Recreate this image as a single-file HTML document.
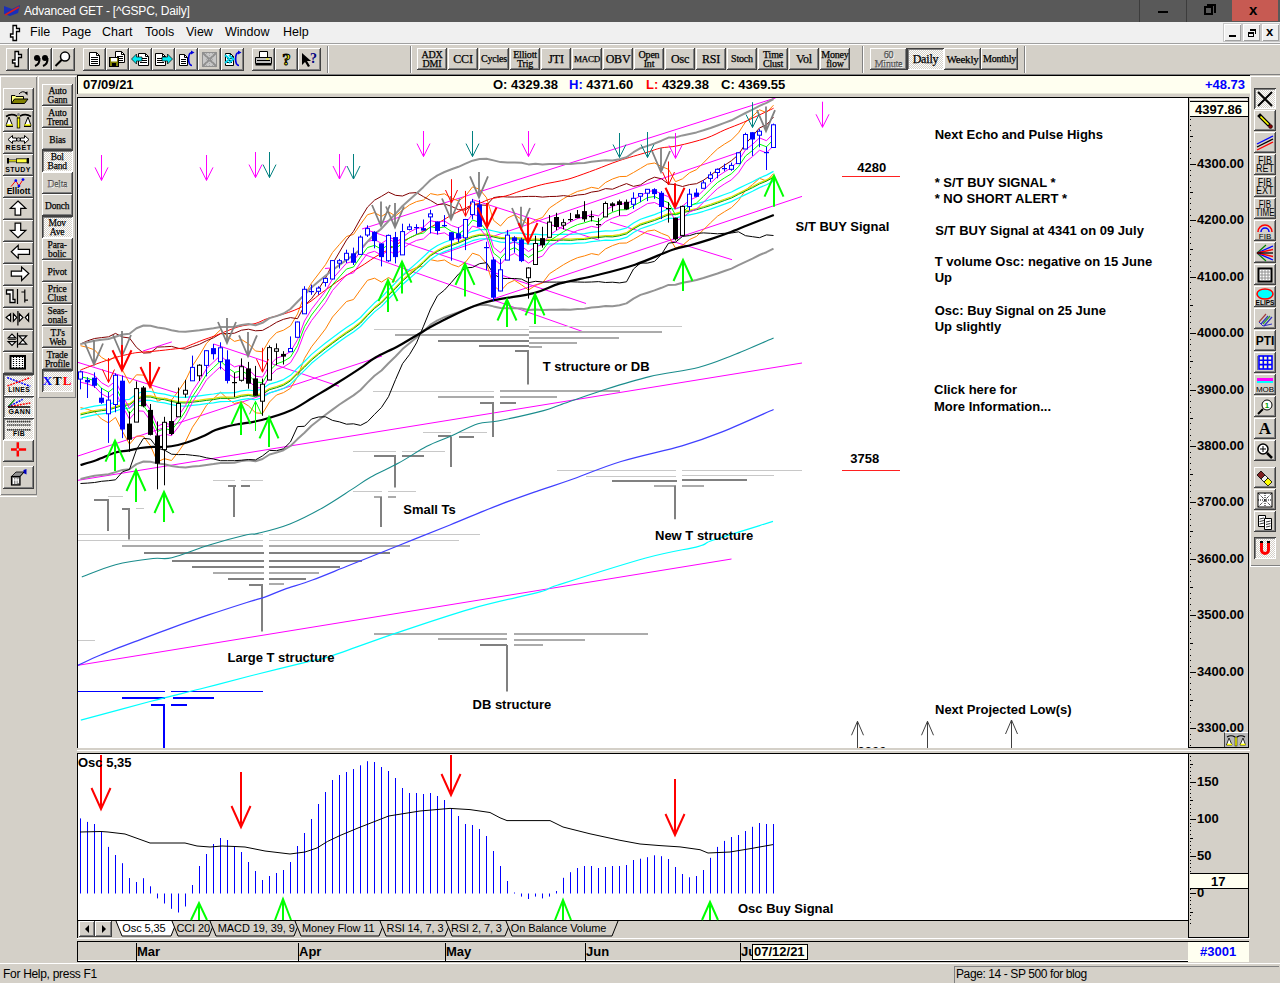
<!DOCTYPE html><html><head><meta charset="utf-8"><style>
*{margin:0;padding:0;box-sizing:border-box}
html,body{width:1280px;height:983px;overflow:hidden;background:#d4d0c8;font-family:"Liberation Sans",Arial,sans-serif}
.ab{position:absolute}
.b{position:absolute;background:#d4d0c8;box-shadow:inset -1px -1px #404040,inset 1px 1px #fff,inset -2px -2px #808080;display:flex;align-items:center;justify-content:center;overflow:hidden}
.bp{position:absolute;background:repeating-conic-gradient(#fff 0 25%,#d4d0c8 0 50%) 0 0/2px 2px;box-shadow:inset 1px 1px #404040,inset -1px -1px #fff,inset 2px 2px #808080;display:flex;align-items:center;justify-content:center;overflow:hidden}
.t9{font-family:"Liberation Serif",serif;font-size:10px;line-height:8px;text-align:center;color:#000;letter-spacing:-0.2px;-webkit-text-stroke:0.25px #000}
.menu span{position:absolute;top:3px;font-size:12.5px;color:#000}
.pl{position:absolute;left:1197px;font:bold 13px "Liberation Sans",Arial,sans-serif;color:#000}
.hl{position:absolute;font:bold 12.5px "Liberation Sans",Arial,sans-serif;color:#000;white-space:nowrap}
</style></head><body><div class="ab" style="left:0;top:0;width:1280px;height:22px;background:#595959"></div><div class="ab" style="left:1139px;top:0;width:1px;height:22px;background:#3c3c3c"></div><div class="ab" style="left:1186px;top:0;width:1px;height:22px;background:#3c3c3c"></div><div class="ab" style="left:1232px;top:0;width:46px;height:21px;background:#c75a52"></div><div class="ab" style="left:1158px;top:11px;width:10px;height:2px;background:#000"></div><div class="ab" style="left:1204px;top:6px;width:9px;height:9px;border:2px solid #000"></div><div class="ab" style="left:1207px;top:4px;width:9px;height:2px;background:#000"></div><div class="ab" style="left:1214px;top:4px;width:2px;height:9px;background:#000"></div><div class="ab" style="left:1249px;top:1px;font:bold 15px 'Liberation Sans',sans-serif;color:#000">x</div><svg class="ab" style="left:3px;top:4px" width="18" height="14"><path d="M1 2 L9 5 L17 1 L15 9 L7 12 L1 10Z" fill="#1a2fb8"/><path d="M2 11 L16 3" stroke="#d02020" stroke-width="2"/></svg><div class="ab" style="left:24px;top:4px;font-size:12px;color:#fff;white-space:nowrap;letter-spacing:-0.2px">Advanced GET - [^GSPC, Daily]</div><div class="ab" style="left:0;top:22px;width:1280px;height:21px;background:#f0f0f0"></div><div class="ab" style="left:0;top:43px;width:1280px;height:1px;background:#a0a0a0"></div><div class="ab" style="left:0;top:44px;width:1280px;height:1px;background:#fff"></div><div class="menu"><span style="left:30px;top:25px">File</span><span style="left:62px;top:25px">Page</span><span style="left:102px;top:25px">Chart</span><span style="left:145px;top:25px">Tools</span><span style="left:186px;top:25px">View</span><span style="left:225px;top:25px">Window</span><span style="left:283px;top:25px">Help</span></div><div class="ab" style="left:8px;top:24px"><svg width="14" height="20"><path d="M5 1.5 H8.5 V4.5 H11.5 V7.5 H8.5 V16.5 H5 V13 H2.5 V10 H5 Z" fill="#fff" stroke="#000" stroke-width="1.3"/></svg></div><div class="ab" style="left:1224px;top:24px;width:17px;height:17px;background:#f0f0f0;box-shadow:inset 1px 1px #fff,inset -1px -1px #a0a0a0,0 0 0 1px #c8c8c8"></div><div class="ab" style="left:1243px;top:24px;width:17px;height:17px;background:#f0f0f0;box-shadow:inset 1px 1px #fff,inset -1px -1px #a0a0a0,0 0 0 1px #c8c8c8"></div><div class="ab" style="left:1262px;top:24px;width:17px;height:17px;background:#f0f0f0;box-shadow:inset 1px 1px #fff,inset -1px -1px #a0a0a0,0 0 0 1px #c8c8c8"></div><div class="ab" style="left:1229px;top:35px;width:7px;height:2px;background:#000"></div><div class="ab" style="left:1248px;top:32px;width:6px;height:5px;border:1px solid #000;border-top-width:2px"></div><div class="ab" style="left:1250px;top:29px;width:6px;height:5px;border-top:2px solid #000;border-right:1px solid #000"></div><div class="ab" style="left:1266px;top:24px;font:bold 13px 'Liberation Sans',sans-serif;color:#000">x</div><div class="ab" style="left:0;top:74px;width:1280px;height:1px;background:#808080"></div><div class="ab" style="left:327px;top:46px;width:1px;height:27px;background:#808080"></div><div class="ab" style="left:328px;top:46px;width:1px;height:27px;background:#fff"></div><div class="ab" style="left:410px;top:46px;width:1px;height:27px;background:#808080"></div><div class="ab" style="left:411px;top:46px;width:1px;height:27px;background:#fff"></div><div class="ab" style="left:862px;top:46px;width:1px;height:27px;background:#808080"></div><div class="ab" style="left:863px;top:46px;width:1px;height:27px;background:#fff"></div><div class="ab" style="left:1024px;top:46px;width:1px;height:27px;background:#808080"></div><div class="ab" style="left:1025px;top:46px;width:1px;height:27px;background:#fff"></div><div class="b" style="left:6px;top:48px;width:23px;height:23px;"><svg width="23" height="23" style="display:block"><path d="M9 3.5 H12.5 V6.5 H15.5 V9.5 H12.5 V18.5 H9 V15 H6.5 V12 H9 Z" fill="#fff" stroke="#000" stroke-width="1.3"/></svg></div><div class="b" style="left:29px;top:48px;width:23px;height:23px;"><svg width="18" height="16"><circle cx="5" cy="6" r="3"/><path d="M7.5 6 Q8 12 3 14" stroke="#000" stroke-width="2" fill="none"/><circle cx="13" cy="6" r="3"/><path d="M15.5 6 Q16 12 11 14" stroke="#000" stroke-width="2" fill="none"/></svg></div><div class="b" style="left:52px;top:48px;width:23px;height:23px;"><svg width="23" height="23" style="display:block"><circle cx="13" cy="8.6" r="4.5" fill="#fff" stroke="#000" stroke-width="1.5"/><path d="M9.8 11.8 L3.5 18" stroke="#000" stroke-width="2"/></svg></div><div class="b" style="left:83px;top:48px;width:23px;height:23px;"><svg width="23" height="23" style="display:block"><path d="M6.5 4.5 H13.5 L16.5 7.5 V17.5 H6.5 Z" fill="#fff" stroke="#000"/><path d="M13.5 4.5 V7.5 H16.5" fill="none" stroke="#000"/><path d="M8 9.5 H15" stroke="#000"/><path d="M8 11.5 H15" stroke="#000"/><path d="M8 13.5 H15" stroke="#000"/><path d="M8 15.5 H15" stroke="#000"/></svg></div><div class="b" style="left:106px;top:48px;width:23px;height:23px;"><svg width="23" height="23" style="display:block"><path d="M9.5 3.5 H15.5 L18.5 6.5 V14.5 H9.5 Z" fill="#fff" stroke="#000"/><path d="M15.5 3.5 V6.5 H18.5" fill="none" stroke="#000"/><path d="M11 8.5 H17" stroke="#000"/><path d="M11 10.5 H17" stroke="#000"/><path d="M11 12.5 H17" stroke="#000"/><rect x="3.5" y="9.5" width="9" height="9" fill="#808000" stroke="#000"/><rect x="5" y="10" width="6" height="3.5" fill="#fff"/><rect x="6" y="15" width="4" height="3" fill="#000"/></svg></div><div class="b" style="left:129px;top:48px;width:23px;height:23px;"><svg width="23" height="23" style="display:block"><path d="M9.5 5.5 H16.5 L19.5 8.5 V17.5 H9.5 Z" fill="#fff" stroke="#000"/><path d="M16.5 5.5 V8.5 H19.5" fill="none" stroke="#000"/><path d="M11 10.5 H18" stroke="#000"/><path d="M11 12.5 H18" stroke="#000"/><path d="M11 14.5 H18" stroke="#000"/><path d="M2.5 11 L7.5 6 V9 H13 V13 H7.5 V16 Z" fill="#00e8f0" stroke="#000" stroke-width=".7"/></svg></div><div class="b" style="left:152px;top:48px;width:23px;height:23px;"><svg width="23" height="23" style="display:block"><path d="M3.5 5.5 H10.5 L13.5 8.5 V17.5 H3.5 Z" fill="#fff" stroke="#000"/><path d="M10.5 5.5 V8.5 H13.5" fill="none" stroke="#000"/><path d="M5 10.5 H12" stroke="#000"/><path d="M5 12.5 H12" stroke="#000"/><path d="M5 14.5 H12" stroke="#000"/><path d="M20.5 11 L15.5 6 V9 H10 V13 H15.5 V16 Z" fill="#00e8f0" stroke="#000" stroke-width=".7"/></svg></div><div class="b" style="left:175px;top:48px;width:23px;height:23px;"><svg width="23" height="23" style="display:block"><path d="M4.5 6.5 H9.5 L12.5 9.5 V17.5 H4.5 Z" fill="#fff" stroke="#000"/><path d="M9.5 6.5 V9.5 H12.5" fill="none" stroke="#000"/><path d="M6 11.5 H11" stroke="#000"/><path d="M6 13.5 H11" stroke="#000"/><path d="M6 15.5 H11" stroke="#000"/><path d="M17 4.5 C12.5 4.5 12.5 17.5 17 17.5" fill="none" stroke="#0000e0" stroke-width="1.6"/><path d="M16 2.5 L19.5 4.5 L16 6.5 Z" fill="#0000e0"/></svg></div><div class="b" style="left:198px;top:48px;width:23px;height:23px;"><svg width="23" height="23" style="display:block"><rect x="4.5" y="4.5" width="14" height="14" fill="#c8c8c8" stroke="#909090"/><path d="M4.5 4.5 L18.5 18.5 M18.5 4.5 L4.5 18.5" stroke="#909090" stroke-width="2"/><path d="M8.5 5V18 M11.5 5V18 M14.5 5V18" stroke="#a8a8a8" stroke-dasharray="1 1"/></svg></div><div class="b" style="left:221px;top:48px;width:23px;height:23px;"><svg width="23" height="23" style="display:block"><path d="M4.5 5.5 H9.5 L12.5 8.5 V17.5 H4.5 Z" fill="#fff" stroke="#000"/><path d="M9.5 5.5 V8.5 H12.5" fill="none" stroke="#000"/><path d="M6 10.5 H11" stroke="#000"/><path d="M6 12.5 H11" stroke="#000"/><path d="M6 14.5 H11" stroke="#000"/><path d="M4 7 L8.5 11 L4 15 M8 7 L12.5 11 L8 15" fill="none" stroke="#00d0e8" stroke-width="2"/><path d="M18 4.5 C13.5 4.5 13.5 17.5 18 17.5" fill="none" stroke="#0000e0" stroke-width="1.6"/><path d="M17 2.5 L20.5 4.5 L17 6.5 Z" fill="#0000e0"/></svg></div><div class="b" style="left:252px;top:48px;width:23px;height:23px;"><svg width="23" height="23" style="display:block"><path d="M7.5 3.5 H15.5 V9.5 H7.5 Z" fill="#fff" stroke="#000"/><path d="M3.5 9.5 H19.5 V15.5 H3.5 Z" fill="#c0c0c0" stroke="#000"/><path d="M3.5 15.5 H19.5 V17.5 H3.5 Z" fill="#000"/><path d="M5 12.5 H18" stroke="#000"/><path d="M14 11 H17" stroke="#ff0"/></svg></div><div class="b" style="left:275px;top:48px;width:23px;height:23px;"><div style="font:bold 17px 'Liberation Serif',serif;color:#ffff00;-webkit-text-stroke:1px #000">?</div></div><div class="b" style="left:298px;top:48px;width:23px;height:23px;"><svg width="20" height="18"><path d="M2 2 L2 14 L5 11 L8 16 L10 15 L7 10 L11 10Z" fill="#000"/><text x="10" y="12" font-family="Liberation Serif, serif" font-weight="bold" font-size="14" fill="#000080">?</text></svg></div><div class="b" style="left:417px;top:48px;width:30px;height:22px;"><div class="t9" style="font-size:10px;line-height:9px">ADX<br>DMI</div></div><div class="b" style="left:448px;top:48px;width:30px;height:22px;"><div class="t9" style="font-size:12px;line-height:12px">CCI</div></div><div class="b" style="left:479px;top:48px;width:30px;height:22px;"><div class="t9" style="font-size:10px;line-height:12px">Cycles</div></div><div class="b" style="left:510px;top:48px;width:30px;height:22px;"><div class="t9" style="font-size:10px;line-height:9px">Elliott<br>Trig</div></div><div class="b" style="left:541px;top:48px;width:30px;height:22px;"><div class="t9" style="font-size:12px;line-height:12px">JTI</div></div><div class="b" style="left:572px;top:48px;width:30px;height:22px;"><div class="t9" style="font-size:9px;line-height:12px">MACD</div></div><div class="b" style="left:603px;top:48px;width:30px;height:22px;"><div class="t9" style="font-size:12px;line-height:12px">OBV</div></div><div class="b" style="left:634px;top:48px;width:30px;height:22px;"><div class="t9" style="font-size:10px;line-height:9px">Open<br>Int</div></div><div class="b" style="left:665px;top:48px;width:30px;height:22px;"><div class="t9" style="font-size:12px;line-height:12px">Osc</div></div><div class="b" style="left:696px;top:48px;width:30px;height:22px;"><div class="t9" style="font-size:12px;line-height:12px">RSI</div></div><div class="b" style="left:727px;top:48px;width:30px;height:22px;"><div class="t9" style="font-size:10px;line-height:12px">Stoch</div></div><div class="b" style="left:758px;top:48px;width:30px;height:22px;"><div class="t9" style="font-size:10px;line-height:9px">Time<br>Clust</div></div><div class="b" style="left:789px;top:48px;width:30px;height:22px;"><div class="t9" style="font-size:12px;line-height:12px">Vol</div></div><div class="b" style="left:820px;top:48px;width:30px;height:22px;"><div class="t9" style="font-size:10px;line-height:9px">Money<br>flow</div></div><div class="b" style="left:870px;top:48px;width:37px;height:22px;"><div class="t9" style="color:#a0a0a0;font-size:10px;line-height:9px;text-shadow:1px 1px #fff">60<br>Minute</div></div><div class="bp" style="left:907px;top:48px;width:37px;height:22px;"><div class="t9" style="font-size:12px;line-height:12px">Daily</div></div><div class="b" style="left:944px;top:48px;width:37px;height:22px;"><div class="t9" style="font-size:11px;line-height:12px">Weekly</div></div><div class="b" style="left:981px;top:48px;width:37px;height:22px;"><div class="t9" style="font-size:10px;line-height:12px">Monthly</div></div><div class="ab" style="left:0;top:76px;width:37px;height:419px;box-shadow:inset 1px 1px #fff,inset -1px -1px #808080"></div><div class="ab" style="left:38px;top:76px;width:38px;height:322px;box-shadow:inset 1px 1px #fff,inset -1px -1px #808080"></div><div class="ab" style="left:0;top:496px;width:37px;height:1px;background:#fff"></div><div class="b" style="left:3px;top:88px;width:31px;height:22px;"><svg width="31" height="22" style="display:block"><path d="M8.5 7.5 H12 L13 8.5 H20.5 V15.5 H8.5 Z" fill="#ffff80" stroke="#000"/><path d="M8.5 15.5 L11.5 11 H25 L21.5 15.5 Z" fill="#808000" stroke="#000"/><path d="M16 6 Q19.5 2 23 5" fill="none" stroke="#000"/><path d="M21.5 4.5 L24.5 7.5 L24.5 3.5 Z" fill="#000"/></svg></div><div class="b" style="left:3px;top:110px;width:31px;height:22px;"><svg width="31" height="22" style="display:block"><path d="M3 6.5 Q8 3 14 6 M17 6 Q23 3 28 6.5" fill="none" stroke="#000" stroke-width="1.6"/><path d="M14 6.5 L15.5 9 L17 6.5" fill="#ff0" stroke="#000" stroke-width=".6"/><rect x="14.2" y="8" width="2.6" height="10" fill="#ff0" stroke="#000" stroke-width=".8"/><circle cx="15.5" cy="4.5" r="1.5" fill="#808080"/><path d="M3 15.5 L6 7 L9.5 15.5 Z M21.5 15.5 L25 7 L28 15.5 Z" fill="#fff" stroke="#000"/><path d="M3.5 15 H9.5 M21.5 15 H27.5" stroke="#ff0" stroke-width="1.6"/><path d="M3 16.5 H10 M21 16.5 H28" stroke="#000"/></svg></div><div class="b" style="left:3px;top:132px;width:31px;height:22px;"><svg width="31" height="22" style="display:block"><path d="M5 7.5 L9.5 3.5 V6 H13.5 V9 H9.5 V11.5 Z M26 7.5 L21.5 3.5 V6 H17.5 V9 H21.5 V11.5 Z" fill="#fff" stroke="#000"/><circle cx="15.5" cy="7.5" r="1.8" fill="#c0c0c0" stroke="#000" stroke-width=".8"/><text x="15.5" y="18" text-anchor="middle" font-family="Liberation Sans, sans-serif" font-weight="bold" font-size="7" letter-spacing="0.5" fill="#000">RESET</text></svg></div><div class="b" style="left:3px;top:154px;width:31px;height:22px;"><svg width="31" height="22" style="display:block"><rect x="4" y="4" width="2" height="5.5" fill="#000"/><rect x="24" y="4" width="2" height="5.5" fill="#000"/><path d="M6 6.8 H13" stroke="#ff0" stroke-width="1.5"/><path d="M6 5.8 H13 M6 7.8 H13" stroke="#000" stroke-width=".6"/><rect x="13.5" y="4.8" width="10.5" height="4" fill="#ffff40" stroke="#000" stroke-width=".8"/><text x="15" y="17.7" text-anchor="middle" font-family="Liberation Sans, sans-serif" font-weight="bold" font-size="7" letter-spacing="0.4" fill="#000">STUDY</text></svg></div><div class="b" style="left:3px;top:176px;width:31px;height:22px;"><svg width="31" height="22" style="display:block"><path d="M8 10.6 L12.8 4.7 L15.9 9.9 L20 3.6" fill="none" stroke="#ff0000" stroke-width="1"/><circle cx="12.8" cy="4.7" r="1.4" fill="#0000ff"/><circle cx="15.9" cy="9.9" r="1.4" fill="#0000ff"/><circle cx="20" cy="3.6" r="1.4" fill="#0000ff"/><text x="15.5" y="18" text-anchor="middle" font-family="Liberation Sans, sans-serif" font-weight="bold" font-size="8.5" letter-spacing="0" fill="#000">Elliott</text></svg></div><div class="b" style="left:3px;top:198px;width:31px;height:22px;"><svg width="31" height="22" style="display:block"><path d="M15 3 L22.8 10.3 H17.7 V17.2 H12.1 V10.3 H7.3 Z" fill="#fff" stroke="#000" stroke-width="1.2"/></svg></div><div class="b" style="left:3px;top:220px;width:31px;height:22px;"><svg width="31" height="22" style="display:block"><path d="M15 17.7 L22.8 10.4 H17.7 V3.2 H12.1 V10.4 H7.3 Z" fill="#fff" stroke="#000" stroke-width="1.2"/></svg></div><div class="b" style="left:3px;top:242px;width:31px;height:22px;"><svg width="31" height="22" style="display:block"><path d="M8.3 9.7 L15.2 3.3 V7.4 H26.5 V12.3 H15.2 V16.4 Z" fill="#fff" stroke="#000" stroke-width="1.2"/></svg></div><div class="b" style="left:3px;top:264px;width:31px;height:22px;"><svg width="31" height="22" style="display:block"><path d="M25.8 9.5 L18.6 3.1 V7.2 H8.3 V12.1 H18.6 V16.5 Z" fill="#fff" stroke="#000" stroke-width="1.2"/></svg></div><div class="b" style="left:3px;top:286px;width:31px;height:22px;"><svg width="31" height="22" style="display:block"><path d="M3.5 4 H10 V13.5 H12 V16.5 H7 V8 H3.5 Z" fill="#fff" stroke="#000" stroke-width="1.3"/><path d="M14.5 3 V18" stroke="#000" stroke-width="1.2"/><path d="M18.4 6 H21.8 V14.2 H25 M21.8 3.5 V16.5" fill="none" stroke="#000" stroke-width="1.2"/></svg></div><div class="b" style="left:3px;top:308px;width:31px;height:22px;"><svg width="31" height="22" style="display:block"><path d="M3.1 9.5 L7.6 5.7 V13.3 Z M10.4 5.7 L13.8 9.5 L10.4 13.3 Z M16.3 5.7 L20 9.5 L16.3 13.3 Z M25.6 5.7 L22.2 9.5 L25.6 13.3 Z" fill="#fff" stroke="#000" stroke-width="1.2"/><path d="M14.9 3 V17.5" stroke="#000" stroke-width="1.2"/></svg></div><div class="b" style="left:3px;top:330px;width:31px;height:22px;"><svg width="31" height="22" style="display:block"><path d="M9 4.1 L12.8 7.9 H5.2 Z M5.2 11.7 H12.8 L9 15.5 Z" fill="#fff" stroke="#000" stroke-width="1.2"/><path d="M5.2 9.5 H12.8" stroke="#000" stroke-width=".8"/><path d="M14.5 2.7 V17.7" stroke="#000" stroke-width="1.2"/><path d="M16 5.8 H23.6 L19.8 9.8 Z M19.8 9.8 L23.6 14.1 H16 Z" fill="#fff" stroke="#000" stroke-width="1.2"/></svg></div><div class="b" style="left:3px;top:352px;width:31px;height:22px;"><svg width="31" height="22" style="display:block"><rect x="7.5" y="4" width="14.5" height="12.6" fill="#fff" stroke="#000" stroke-width="2"/><path d="M10.5 5V16 M13.5 5V16 M16.5 5V16 M19.5 5V16" stroke="#000" stroke-width="1.2" stroke-dasharray="1 1"/></svg></div><div class="bp" style="left:3px;top:374px;width:31px;height:22px;"><svg width="31" height="22" style="display:block"><path d="M4.2 3.6 L27.3 12.3" stroke="#0000ff" stroke-width="1.5" stroke-dasharray="2 1"/><path d="M4.5 11.9 L27.3 3.6" stroke="#ff0000" stroke-width="1.5" stroke-dasharray="2 1"/><text x="16.2" y="18.3" text-anchor="middle" font-family="Liberation Sans, sans-serif" font-weight="bold" font-size="6.8" letter-spacing="0.4" fill="#000">LINES</text></svg></div><div class="bp" style="left:3px;top:396px;width:31px;height:22px;"><svg width="31" height="22" style="display:block"><path d="M5 11 L11.8 3.4" stroke="#008000" stroke-width="1.2"/><path d="M5 11 L19.7 3.4" stroke="#0000ff" stroke-width="1.5" stroke-dasharray="2 1"/><path d="M5 11 L27.3 6.9" stroke="#ff0000" stroke-width="1.5" stroke-dasharray="2 1"/><path d="M5 11 H27.3" stroke="#000" stroke-width="1.5"/><text x="16.6" y="18" text-anchor="middle" font-family="Liberation Sans, sans-serif" font-weight="bold" font-size="7" letter-spacing="0.4" fill="#000">GANN</text></svg></div><div class="bp" style="left:3px;top:418px;width:31px;height:22px;"><svg width="31" height="22" style="display:block"><path d="M4 3.6 H28 M4 7 H28 M4 11.9 H28" stroke="#404040" stroke-width="1.6" stroke-dasharray="1.5 .5"/><text x="16" y="18" text-anchor="middle" font-family="Liberation Sans, sans-serif" font-weight="bold" font-size="6.8" letter-spacing="0.3" fill="#000">FIB</text></svg></div><div class="b" style="left:3px;top:440px;width:31px;height:22px;"><svg width="31" height="22" style="display:block"><path d="M8 9.5 H23.1 M14.8 2.3 V16.6" stroke="#ff0000" stroke-width="2.5"/><rect x="13.8" y="8.5" width="2" height="2" fill="#c0e0e0"/></svg></div><div class="b" style="left:3px;top:466px;width:31px;height:23px;"><svg width="31" height="22" style="display:block"><path d="M8.5 9.5 L13 5 H21 L17 9.5 Z" fill="#909090" stroke="#000" stroke-width=".8"/><rect x="8.5" y="9.5" width="8.5" height="8.5" fill="#808080" stroke="#000" stroke-width="1.2"/><path d="M10.5 11 V17 M13 11 V17 M15.3 11.5 V16" stroke="#fff" stroke-width="1.2"/><path d="M10 13 H16" stroke="#fff"/><path d="M20.5 3 L23.5 2 V7.5 L20.5 6 Z" fill="#0000c0"/><path d="M17 9.5 L21 5" stroke="#000" stroke-width=".8"/></svg></div><div class="b" style="left:42px;top:84px;width:31px;height:22px;"><div class="t9" style="font-size:11px;line-height:9px;transform:scaleX(0.86);">Auto<br>Gann</div></div><div class="b" style="left:42px;top:106px;width:31px;height:22px;"><div class="t9" style="font-size:11px;line-height:9px;transform:scaleX(0.86);">Auto<br>Trend</div></div><div class="b" style="left:42px;top:128px;width:31px;height:22px;"><div class="t9" style="font-size:11px;line-height:12px;transform:scaleX(0.86);">Bias</div></div><div class="bp" style="left:42px;top:150px;width:31px;height:22px;"><div class="t9" style="font-size:11px;line-height:9px;transform:scaleX(0.86);">Bol<br>Band</div></div><div class="b" style="left:42px;top:172px;width:31px;height:22px;"><div class="t9" style="font-size:11px;line-height:12px;transform:scaleX(0.86);color:#a0a0a0;text-shadow:1px 1px #fff">Delta</div></div><div class="b" style="left:42px;top:194px;width:31px;height:22px;"><div class="t9" style="font-size:11px;line-height:12px;transform:scaleX(0.86);">Donch</div></div><div class="bp" style="left:42px;top:216px;width:31px;height:22px;"><div class="t9" style="font-size:11px;line-height:9px;transform:scaleX(0.86);">Mov<br>Ave</div></div><div class="b" style="left:42px;top:238px;width:31px;height:22px;"><div class="t9" style="font-size:11px;line-height:9px;transform:scaleX(0.86);">Para-<br>bolic</div></div><div class="b" style="left:42px;top:260px;width:31px;height:22px;"><div class="t9" style="font-size:11px;line-height:12px;transform:scaleX(0.86);">Pivot</div></div><div class="b" style="left:42px;top:282px;width:31px;height:22px;"><div class="t9" style="font-size:11px;line-height:9px;transform:scaleX(0.86);">Price<br>Clust</div></div><div class="b" style="left:42px;top:304px;width:31px;height:22px;"><div class="t9" style="font-size:11px;line-height:9px;transform:scaleX(0.86);">Seas-<br>onals</div></div><div class="b" style="left:42px;top:326px;width:31px;height:22px;"><div class="t9" style="font-size:11px;line-height:9px;transform:scaleX(0.86);">TJ's<br>Web</div></div><div class="b" style="left:42px;top:348px;width:31px;height:22px;"><div class="t9" style="font-size:11px;line-height:9px;transform:scaleX(0.86);">Trade<br>Profile</div></div><div class="bp" style="left:42px;top:370px;width:31px;height:22px;"><div style="font:bold 13px 'Liberation Serif',serif;letter-spacing:1px"><span style="color:#0000ff">X</span><span style="color:#000">T</span><span style="color:#ff0000">L</span></div></div><div class="ab" style="left:77px;top:75px;width:1173px;height:19px;background:#fffff0;border-top:1px solid #000;border-left:1px solid #000;box-shadow:inset 0 -1px #e8e8d8"></div><div class="hl" style="left:83px;top:77px;font-size:13px">07/09/21</div><div class="hl" style="left:493px;top:77px;font-size:13px">O: 4329.38</div><div class="hl" style="left:569px;top:77px;font-size:13px"><span style="color:#0000ff">H:</span> 4371.60</div><div class="hl" style="left:646px;top:77px;font-size:13px"><span style="color:#ff0000">L:</span> 4329.38</div><div class="hl" style="left:721px;top:77px;font-size:13px">C: 4369.55</div><div class="hl" style="right:35px;top:77px;font-size:13px;color:#0000ff">+48.73</div><div class="ab" style="left:77px;top:97px;width:1112px;height:651px;background:#fff;border:1px solid #000;border-right:none;border-bottom:none"></div><div class="ab" style="left:1188px;top:97px;width:61px;height:651px;background:#d4d0c8;border:1px solid #000"></div><div class="ab" style="left:1190px;top:99px;width:57px;height:3px;background:#d4d0c8;box-shadow:inset 0 1px #fff"></div><div class="ab" style="left:1190px;top:101px;width:58px;height:16px;background:#fffff0;border-top:1px solid #000;border-bottom:1px solid #000"></div><div class="hl" style="left:1195px;top:102px;font-size:13px">4397.86</div><div class="ab" style="left:1190px;top:119px;width:1px;height:1px;background:#000"></div><div class="ab" style="left:1190px;top:125px;width:1px;height:1px;background:#000"></div><div class="ab" style="left:1190px;top:130px;width:1px;height:1px;background:#000"></div><div class="ab" style="left:1190px;top:136px;width:3px;height:1px;background:#000"></div><div class="ab" style="left:1190px;top:141px;width:1px;height:1px;background:#000"></div><div class="ab" style="left:1190px;top:147px;width:1px;height:1px;background:#000"></div><div class="ab" style="left:1190px;top:153px;width:1px;height:1px;background:#000"></div><div class="ab" style="left:1190px;top:158px;width:1px;height:1px;background:#000"></div><div class="ab" style="left:1190px;top:164px;width:6px;height:1px;background:#000"></div><div class="pl" style="top:156px">4300.00</div><div class="ab" style="left:1190px;top:170px;width:1px;height:1px;background:#000"></div><div class="ab" style="left:1190px;top:175px;width:1px;height:1px;background:#000"></div><div class="ab" style="left:1190px;top:181px;width:1px;height:1px;background:#000"></div><div class="ab" style="left:1190px;top:187px;width:1px;height:1px;background:#000"></div><div class="ab" style="left:1190px;top:192px;width:3px;height:1px;background:#000"></div><div class="ab" style="left:1190px;top:198px;width:1px;height:1px;background:#000"></div><div class="ab" style="left:1190px;top:203px;width:1px;height:1px;background:#000"></div><div class="ab" style="left:1190px;top:209px;width:1px;height:1px;background:#000"></div><div class="ab" style="left:1190px;top:215px;width:1px;height:1px;background:#000"></div><div class="ab" style="left:1190px;top:220px;width:6px;height:1px;background:#000"></div><div class="pl" style="top:212px">4200.00</div><div class="ab" style="left:1190px;top:226px;width:1px;height:1px;background:#000"></div><div class="ab" style="left:1190px;top:232px;width:1px;height:1px;background:#000"></div><div class="ab" style="left:1190px;top:237px;width:1px;height:1px;background:#000"></div><div class="ab" style="left:1190px;top:243px;width:1px;height:1px;background:#000"></div><div class="ab" style="left:1190px;top:249px;width:3px;height:1px;background:#000"></div><div class="ab" style="left:1190px;top:254px;width:1px;height:1px;background:#000"></div><div class="ab" style="left:1190px;top:260px;width:1px;height:1px;background:#000"></div><div class="ab" style="left:1190px;top:266px;width:1px;height:1px;background:#000"></div><div class="ab" style="left:1190px;top:271px;width:1px;height:1px;background:#000"></div><div class="ab" style="left:1190px;top:277px;width:6px;height:1px;background:#000"></div><div class="pl" style="top:269px">4100.00</div><div class="ab" style="left:1190px;top:282px;width:1px;height:1px;background:#000"></div><div class="ab" style="left:1190px;top:288px;width:1px;height:1px;background:#000"></div><div class="ab" style="left:1190px;top:294px;width:1px;height:1px;background:#000"></div><div class="ab" style="left:1190px;top:299px;width:1px;height:1px;background:#000"></div><div class="ab" style="left:1190px;top:305px;width:3px;height:1px;background:#000"></div><div class="ab" style="left:1190px;top:311px;width:1px;height:1px;background:#000"></div><div class="ab" style="left:1190px;top:316px;width:1px;height:1px;background:#000"></div><div class="ab" style="left:1190px;top:322px;width:1px;height:1px;background:#000"></div><div class="ab" style="left:1190px;top:328px;width:1px;height:1px;background:#000"></div><div class="ab" style="left:1190px;top:333px;width:6px;height:1px;background:#000"></div><div class="pl" style="top:325px">4000.00</div><div class="ab" style="left:1190px;top:339px;width:1px;height:1px;background:#000"></div><div class="ab" style="left:1190px;top:344px;width:1px;height:1px;background:#000"></div><div class="ab" style="left:1190px;top:350px;width:1px;height:1px;background:#000"></div><div class="ab" style="left:1190px;top:356px;width:1px;height:1px;background:#000"></div><div class="ab" style="left:1190px;top:361px;width:3px;height:1px;background:#000"></div><div class="ab" style="left:1190px;top:367px;width:1px;height:1px;background:#000"></div><div class="ab" style="left:1190px;top:373px;width:1px;height:1px;background:#000"></div><div class="ab" style="left:1190px;top:378px;width:1px;height:1px;background:#000"></div><div class="ab" style="left:1190px;top:384px;width:1px;height:1px;background:#000"></div><div class="ab" style="left:1190px;top:390px;width:6px;height:1px;background:#000"></div><div class="pl" style="top:382px">3900.00</div><div class="ab" style="left:1190px;top:395px;width:1px;height:1px;background:#000"></div><div class="ab" style="left:1190px;top:401px;width:1px;height:1px;background:#000"></div><div class="ab" style="left:1190px;top:407px;width:1px;height:1px;background:#000"></div><div class="ab" style="left:1190px;top:412px;width:1px;height:1px;background:#000"></div><div class="ab" style="left:1190px;top:418px;width:3px;height:1px;background:#000"></div><div class="ab" style="left:1190px;top:423px;width:1px;height:1px;background:#000"></div><div class="ab" style="left:1190px;top:429px;width:1px;height:1px;background:#000"></div><div class="ab" style="left:1190px;top:435px;width:1px;height:1px;background:#000"></div><div class="ab" style="left:1190px;top:440px;width:1px;height:1px;background:#000"></div><div class="ab" style="left:1190px;top:446px;width:6px;height:1px;background:#000"></div><div class="pl" style="top:438px">3800.00</div><div class="ab" style="left:1190px;top:452px;width:1px;height:1px;background:#000"></div><div class="ab" style="left:1190px;top:457px;width:1px;height:1px;background:#000"></div><div class="ab" style="left:1190px;top:463px;width:1px;height:1px;background:#000"></div><div class="ab" style="left:1190px;top:469px;width:1px;height:1px;background:#000"></div><div class="ab" style="left:1190px;top:474px;width:3px;height:1px;background:#000"></div><div class="ab" style="left:1190px;top:480px;width:1px;height:1px;background:#000"></div><div class="ab" style="left:1190px;top:485px;width:1px;height:1px;background:#000"></div><div class="ab" style="left:1190px;top:491px;width:1px;height:1px;background:#000"></div><div class="ab" style="left:1190px;top:497px;width:1px;height:1px;background:#000"></div><div class="ab" style="left:1190px;top:502px;width:6px;height:1px;background:#000"></div><div class="pl" style="top:494px">3700.00</div><div class="ab" style="left:1190px;top:508px;width:1px;height:1px;background:#000"></div><div class="ab" style="left:1190px;top:514px;width:1px;height:1px;background:#000"></div><div class="ab" style="left:1190px;top:519px;width:1px;height:1px;background:#000"></div><div class="ab" style="left:1190px;top:525px;width:1px;height:1px;background:#000"></div><div class="ab" style="left:1190px;top:531px;width:3px;height:1px;background:#000"></div><div class="ab" style="left:1190px;top:536px;width:1px;height:1px;background:#000"></div><div class="ab" style="left:1190px;top:542px;width:1px;height:1px;background:#000"></div><div class="ab" style="left:1190px;top:548px;width:1px;height:1px;background:#000"></div><div class="ab" style="left:1190px;top:553px;width:1px;height:1px;background:#000"></div><div class="ab" style="left:1190px;top:559px;width:6px;height:1px;background:#000"></div><div class="pl" style="top:551px">3600.00</div><div class="ab" style="left:1190px;top:564px;width:1px;height:1px;background:#000"></div><div class="ab" style="left:1190px;top:570px;width:1px;height:1px;background:#000"></div><div class="ab" style="left:1190px;top:576px;width:1px;height:1px;background:#000"></div><div class="ab" style="left:1190px;top:581px;width:1px;height:1px;background:#000"></div><div class="ab" style="left:1190px;top:587px;width:3px;height:1px;background:#000"></div><div class="ab" style="left:1190px;top:593px;width:1px;height:1px;background:#000"></div><div class="ab" style="left:1190px;top:598px;width:1px;height:1px;background:#000"></div><div class="ab" style="left:1190px;top:604px;width:1px;height:1px;background:#000"></div><div class="ab" style="left:1190px;top:610px;width:1px;height:1px;background:#000"></div><div class="ab" style="left:1190px;top:615px;width:6px;height:1px;background:#000"></div><div class="pl" style="top:607px">3500.00</div><div class="ab" style="left:1190px;top:621px;width:1px;height:1px;background:#000"></div><div class="ab" style="left:1190px;top:626px;width:1px;height:1px;background:#000"></div><div class="ab" style="left:1190px;top:632px;width:1px;height:1px;background:#000"></div><div class="ab" style="left:1190px;top:638px;width:1px;height:1px;background:#000"></div><div class="ab" style="left:1190px;top:643px;width:3px;height:1px;background:#000"></div><div class="ab" style="left:1190px;top:649px;width:1px;height:1px;background:#000"></div><div class="ab" style="left:1190px;top:655px;width:1px;height:1px;background:#000"></div><div class="ab" style="left:1190px;top:660px;width:1px;height:1px;background:#000"></div><div class="ab" style="left:1190px;top:666px;width:1px;height:1px;background:#000"></div><div class="ab" style="left:1190px;top:672px;width:6px;height:1px;background:#000"></div><div class="pl" style="top:664px">3400.00</div><div class="ab" style="left:1190px;top:677px;width:1px;height:1px;background:#000"></div><div class="ab" style="left:1190px;top:683px;width:1px;height:1px;background:#000"></div><div class="ab" style="left:1190px;top:689px;width:1px;height:1px;background:#000"></div><div class="ab" style="left:1190px;top:694px;width:1px;height:1px;background:#000"></div><div class="ab" style="left:1190px;top:700px;width:3px;height:1px;background:#000"></div><div class="ab" style="left:1190px;top:705px;width:1px;height:1px;background:#000"></div><div class="ab" style="left:1190px;top:711px;width:1px;height:1px;background:#000"></div><div class="ab" style="left:1190px;top:717px;width:1px;height:1px;background:#000"></div><div class="ab" style="left:1190px;top:722px;width:1px;height:1px;background:#000"></div><div class="ab" style="left:1190px;top:728px;width:6px;height:1px;background:#000"></div><div class="pl" style="top:720px">3300.00</div><div class="ab" style="left:1190px;top:734px;width:1px;height:1px;background:#000"></div><div class="ab" style="left:1190px;top:739px;width:1px;height:1px;background:#000"></div><div class="ab" style="left:1190px;top:745px;width:1px;height:1px;background:#000"></div><div class="ab" style="left:1224px;top:732px;width:24px;height:15px;background:#b8b8b8;border-left:1px solid #404040;border-top:1px solid #fff"><svg width="22" height="15" style="display:block"><path d="M2 4 Q6 1.5 10 4 M12 4 Q16 1.5 20 4" fill="none" stroke="#000" stroke-width="1.2"/><rect x="10" y="4" width="2" height="9" fill="#ff0" stroke="#000" stroke-width=".5"/><path d="M1.5 12 L4 5 L7 12 Z M15 12 L18 5 L20.5 12 Z" fill="#fff" stroke="#000" stroke-width=".8"/><path d="M2 11.5 H7 M15.5 11.5 H20.5" stroke="#ff0" stroke-width="1.3"/></svg></div><div class="ab" style="left:1250px;top:76px;width:31px;height:490px;box-shadow:inset 1px 1px #fff,inset 0 -1px #808080"></div><div class="ab" style="left:1250px;top:566px;width:30px;height:1px;background:#fff"></div><div class="bp" style="left:1254px;top:88px;width:22px;height:21px;"><svg width="18" height="18"><path d="M2 2 L16 16 M16 2 L2 16" stroke="#000" stroke-width="2"/></svg></div><div class="b" style="left:1254px;top:110px;width:22px;height:21px;"><svg width="18" height="18"><path d="M4 2 L14 12 L12 14 L2 4 Z" fill="#ffff00" stroke="#000" stroke-width="1.2"/><path d="M2 4 L4 2 L5.5 3.5 L3.5 5.5 Z" fill="#000"/><circle cx="14.5" cy="14.5" r="2" fill="#800000" stroke="#000" stroke-width=".5"/></svg></div><div class="b" style="left:1254px;top:132px;width:22px;height:21px;"><svg width="18" height="18"><path d="M1 10 L17 2" stroke="#0000ff" stroke-width="1.3"/><path d="M1 13 L17 5" stroke="#000" stroke-width="1.3"/><path d="M1 16 L17 8" stroke="#ff0000" stroke-width="1.3"/></svg></div><div class="b" style="left:1254px;top:154px;width:22px;height:21px;"><div style="font:10px/8px 'Liberation Sans',sans-serif;text-align:center;color:#000;transform:scaleX(.9)">FIB<br>RET</div></div><div class="b" style="left:1254px;top:176px;width:22px;height:21px;"><div style="font:10px/8px 'Liberation Sans',sans-serif;text-align:center;color:#000;transform:scaleX(.9)">FIB<br>EXT</div></div><div class="b" style="left:1254px;top:198px;width:22px;height:21px;"><div style="font:10px/8px 'Liberation Sans',sans-serif;text-align:center;color:#000;transform:scaleX(.8)">FIB<br>TIME</div></div><div class="b" style="left:1254px;top:220px;width:22px;height:21px;"><svg width="18" height="18"><path d="M2 10 A7 7 0 0 1 16 10" fill="none" stroke="#ff0000" stroke-width="1.5"/><path d="M5 10 A4 4 0 0 1 13 10" fill="none" stroke="#0000ff" stroke-width="1.5"/><text x="9" y="17" text-anchor="middle" font-family="Liberation Sans, sans-serif" font-size="8" fill="#000">FIB</text></svg></div><div class="b" style="left:1254px;top:242px;width:22px;height:21px;"><svg width="20" height="18"><path d="M2 9 L11 1 M2 9 L11 17" stroke="#008000" stroke-width="1.2"/><path d="M2 9 L18 2 M2 9 L18 16" stroke="#0000ff" stroke-width="1.3"/><path d="M2 9 L18 5.5 M2 9 L18 12.5" stroke="#ff0000" stroke-width="1.3"/><path d="M2 9 H18" stroke="#000" stroke-width="1.3"/></svg></div><div class="b" style="left:1254px;top:264px;width:22px;height:21px;"><svg width="18" height="18"><rect x="2.5" y="2.5" width="13" height="13" fill="#fff" stroke="#000" stroke-width="2"/><path d="M6 3.5V14.5 M9 3.5V14.5 M12 3.5V14.5 M3.5 6H14.5 M3.5 9H14.5 M3.5 12H14.5" stroke="#909090" stroke-width="1"/></svg></div><div class="b" style="left:1254px;top:286px;width:22px;height:21px;"><svg width="20" height="18"><ellipse cx="10" cy="6" rx="8" ry="5" fill="#00ffff" stroke="#ff0000" stroke-width="1.5"/><text x="10" y="17" text-anchor="middle" font-family="Liberation Sans, sans-serif" font-weight="bold" font-size="6.5" fill="#000">ELIPS</text></svg></div><div class="b" style="left:1254px;top:308px;width:22px;height:21px;"><svg width="18" height="18"><path d="M3 12 L10 4" stroke="#a04040" stroke-width="1.2"/><path d="M5 14 L12 6" stroke="#3030c0" stroke-width="1.2"/><path d="M7 14 L14 6" stroke="#30a030" stroke-width="1.2"/><path d="M8 16 L16 7" stroke="#3030c0" stroke-width="1.2"/><path d="M3 12 L7 16 L16 14" stroke="#3030c0" stroke-width="1" fill="none"/></svg></div><div class="b" style="left:1254px;top:330px;width:22px;height:21px;"><div style="font:bold 12px 'Liberation Sans',sans-serif;color:#000">PTI</div></div><div class="b" style="left:1254px;top:352px;width:22px;height:21px;"><svg width="18" height="18"><rect x="3" y="2" width="13" height="13" fill="#ffffd0" stroke="#0000ff" stroke-width="1.6"/><path d="M7.3 2V15 M11.6 2V15 M3 6.3H16 M3 10.6H16" stroke="#0000ff" stroke-width="1.6"/><path d="M1.5 2V16" stroke="#808080"/></svg></div><div class="b" style="left:1254px;top:374px;width:22px;height:21px;"><svg width="20" height="18"><rect x="2" y="2" width="16" height="3" fill="#ff00ff"/><rect x="2" y="5" width="16" height="2" fill="#00ffff"/><text x="10" y="16" text-anchor="middle" font-family="Liberation Sans, sans-serif" font-size="8" fill="#000">MOB</text></svg></div><div class="b" style="left:1254px;top:396px;width:22px;height:21px;"><svg width="18" height="18"><circle cx="11" cy="7" r="5" fill="#fff" stroke="#000"/><text x="11" y="10" text-anchor="middle" font-family="Liberation Sans, sans-serif" font-weight="bold" font-size="8" fill="#00a000">1</text><path d="M7 11 L2 16" stroke="#000" stroke-width="2"/></svg></div><div class="b" style="left:1254px;top:418px;width:22px;height:21px;"><div style="font:bold 17px 'Liberation Serif',serif;color:#000">A</div></div><div class="b" style="left:1254px;top:440px;width:22px;height:21px;"><svg width="18" height="18"><circle cx="7" cy="7" r="5" fill="#fff" stroke="#000" stroke-width="1.5"/><path d="M4 7H10M7 4V10" stroke="#000"/><path d="M11 11 L16 16" stroke="#000" stroke-width="2.5"/></svg></div><div class="b" style="left:1254px;top:467px;width:22px;height:21px;"><svg width="18" height="18"><path d="M5 2 L9 6 L5 10 L1 6 Z" fill="#802020" stroke="#000" stroke-width=".8"/><path d="M9 6 L12 9 L8 13 L5 10 Z" fill="#f0f0f0" stroke="#000" stroke-width=".8"/><path d="M12 9 L16 13 L12 17 L8 13 Z" fill="#ffff00" stroke="#000" stroke-width=".8"/></svg></div><div class="b" style="left:1254px;top:489px;width:22px;height:21px;"><svg width="18" height="18"><rect x="2" y="2" width="14" height="14" fill="#fff" stroke="#000"/><path d="M2 2 L16 16 M16 2 L2 16 M9 2V16 M2 9H16" stroke="#000" stroke-dasharray="1 1"/></svg></div><div class="b" style="left:1254px;top:511px;width:22px;height:21px;"><svg width="18" height="18"><path d="M2.5 2.5 H9.5 V13.5 H2.5 Z" fill="#fff" stroke="#000"/><path d="M8.5 5.5 H15.5 V16.5 H8.5 Z" fill="#fff" stroke="#000"/><path d="M3.5 6 L8 5 M3.5 8.5 L8 7.5 M3.5 11 L8 10 M10 9 L14.5 8 M10 11.5 L14.5 10.5 M10 14 L14.5 13" stroke="#000" stroke-width=".8"/></svg></div><div class="bp" style="left:1254px;top:537px;width:22px;height:22px;"><svg width="18" height="18"><path d="M4 2 V11 A5 5 0 0 0 14 11 V2 H11 V11 A2 2 0 0 1 7 11 V2Z" fill="#ff0000"/><path d="M4 2 H7 V4 H4Z M11 2 H14 V4 H11Z" fill="#000"/></svg></div><div class="ab" style="left:77px;top:750px;width:1173px;height:1px;background:#fff"></div><div class="ab" style="left:77px;top:753px;width:1112px;height:168px;background:#fff;border:1px solid #000;border-right:none;border-bottom:none"></div><div class="ab" style="left:1188px;top:753px;width:61px;height:185px;background:#d4d0c8;border:1px solid #000"></div><div class="ab" style="left:1190px;top:923px;width:1px;height:1px;background:#000"></div><div class="ab" style="left:1190px;top:919px;width:1px;height:1px;background:#000"></div><div class="ab" style="left:1190px;top:915px;width:1px;height:1px;background:#000"></div><div class="ab" style="left:1190px;top:912px;width:3px;height:1px;background:#000"></div><div class="ab" style="left:1190px;top:908px;width:1px;height:1px;background:#000"></div><div class="ab" style="left:1190px;top:904px;width:1px;height:1px;background:#000"></div><div class="ab" style="left:1190px;top:900px;width:1px;height:1px;background:#000"></div><div class="ab" style="left:1190px;top:897px;width:1px;height:1px;background:#000"></div><div class="ab" style="left:1190px;top:893px;width:6px;height:1px;background:#000"></div><div class="pl" style="top:885px">0</div><div class="ab" style="left:1190px;top:889px;width:1px;height:1px;background:#000"></div><div class="ab" style="left:1190px;top:886px;width:1px;height:1px;background:#000"></div><div class="ab" style="left:1190px;top:882px;width:1px;height:1px;background:#000"></div><div class="ab" style="left:1190px;top:878px;width:1px;height:1px;background:#000"></div><div class="ab" style="left:1190px;top:874px;width:3px;height:1px;background:#000"></div><div class="ab" style="left:1190px;top:871px;width:1px;height:1px;background:#000"></div><div class="ab" style="left:1190px;top:867px;width:1px;height:1px;background:#000"></div><div class="ab" style="left:1190px;top:863px;width:1px;height:1px;background:#000"></div><div class="ab" style="left:1190px;top:860px;width:1px;height:1px;background:#000"></div><div class="ab" style="left:1190px;top:856px;width:6px;height:1px;background:#000"></div><div class="pl" style="top:848px">50</div><div class="ab" style="left:1190px;top:852px;width:1px;height:1px;background:#000"></div><div class="ab" style="left:1190px;top:849px;width:1px;height:1px;background:#000"></div><div class="ab" style="left:1190px;top:845px;width:1px;height:1px;background:#000"></div><div class="ab" style="left:1190px;top:841px;width:1px;height:1px;background:#000"></div><div class="ab" style="left:1190px;top:838px;width:3px;height:1px;background:#000"></div><div class="ab" style="left:1190px;top:834px;width:1px;height:1px;background:#000"></div><div class="ab" style="left:1190px;top:830px;width:1px;height:1px;background:#000"></div><div class="ab" style="left:1190px;top:826px;width:1px;height:1px;background:#000"></div><div class="ab" style="left:1190px;top:823px;width:1px;height:1px;background:#000"></div><div class="ab" style="left:1190px;top:819px;width:6px;height:1px;background:#000"></div><div class="pl" style="top:811px">100</div><div class="ab" style="left:1190px;top:815px;width:1px;height:1px;background:#000"></div><div class="ab" style="left:1190px;top:812px;width:1px;height:1px;background:#000"></div><div class="ab" style="left:1190px;top:808px;width:1px;height:1px;background:#000"></div><div class="ab" style="left:1190px;top:804px;width:1px;height:1px;background:#000"></div><div class="ab" style="left:1190px;top:800px;width:3px;height:1px;background:#000"></div><div class="ab" style="left:1190px;top:797px;width:1px;height:1px;background:#000"></div><div class="ab" style="left:1190px;top:793px;width:1px;height:1px;background:#000"></div><div class="ab" style="left:1190px;top:789px;width:1px;height:1px;background:#000"></div><div class="ab" style="left:1190px;top:786px;width:1px;height:1px;background:#000"></div><div class="ab" style="left:1190px;top:782px;width:6px;height:1px;background:#000"></div><div class="pl" style="top:774px">150</div><div class="ab" style="left:1190px;top:778px;width:1px;height:1px;background:#000"></div><div class="ab" style="left:1190px;top:775px;width:1px;height:1px;background:#000"></div><div class="ab" style="left:1190px;top:771px;width:1px;height:1px;background:#000"></div><div class="ab" style="left:1190px;top:767px;width:1px;height:1px;background:#000"></div><div class="ab" style="left:1190px;top:764px;width:3px;height:1px;background:#000"></div><div class="ab" style="left:1190px;top:760px;width:1px;height:1px;background:#000"></div><div class="ab" style="left:1190px;top:756px;width:1px;height:1px;background:#000"></div><div class="ab" style="left:1190px;top:873px;width:58px;height:16px;background:#fffff0;border-top:1px solid #000;border-bottom:1px solid #000"></div><div class="hl" style="left:1211px;top:874px;font-size:13px">17</div><div class="ab" style="left:77px;top:920px;width:1111px;height:18px;background:#d4d0c8;border-top:1px solid #000;border-left:1px solid #000"></div><div class="ab" style="left:77px;top:938px;width:1173px;height:1px;background:#fff"></div><div class="b" style="left:79px;top:921px;width:16px;height:16px;"><svg width="8" height="8"><path d="M6 0 L2 4 L6 8Z" fill="#000"/></svg></div><div class="b" style="left:95px;top:921px;width:17px;height:16px;"><svg width="8" height="8"><path d="M2 0 L6 4 L2 8Z" fill="#000"/></svg></div><svg class="ab" style="left:0;top:0" width="1280" height="983"><path d="M116 921 L122 936 L171 936 L177 921" fill="#fff" stroke="#000" stroke-width="1"/><path d="M172 921 L178 936 L209 936 L215 921" fill="#d4d0c8" stroke="#000" stroke-width="1"/><path d="M210 921 L216 936 L294 936 L300 921" fill="#d4d0c8" stroke="#000" stroke-width="1"/><path d="M295 921 L301 936 L379 936 L385 921" fill="#d4d0c8" stroke="#000" stroke-width="1"/><path d="M380 921 L386 936 L445 936 L451 921" fill="#d4d0c8" stroke="#000" stroke-width="1"/><path d="M446 921 L452 936 L505 936 L511 921" fill="#d4d0c8" stroke="#000" stroke-width="1"/><path d="M506 921 L512 936 L612 936 L618 921" fill="#d4d0c8" stroke="#000" stroke-width="1"/></svg><div class="ab" style="left:122.3px;top:922px;font-size:11px;color:#000;white-space:nowrap;letter-spacing:-0.1px">Osc 5,35</div><div class="ab" style="left:176.4px;top:922px;font-size:11px;color:#000;white-space:nowrap;letter-spacing:-0.1px">CCI 20</div><div class="ab" style="left:217.8px;top:922px;font-size:11px;color:#000;white-space:nowrap;letter-spacing:-0.1px">MACD 19, 39, 9</div><div class="ab" style="left:302px;top:922px;font-size:11px;color:#000;white-space:nowrap;letter-spacing:-0.1px">Money Flow 11</div><div class="ab" style="left:386.6px;top:922px;font-size:11px;color:#000;white-space:nowrap;letter-spacing:-0.1px">RSI 14, 7, 3</div><div class="ab" style="left:451px;top:922px;font-size:11px;color:#000;white-space:nowrap;letter-spacing:-0.1px">RSI 2, 7, 3</div><div class="ab" style="left:510.8px;top:922px;font-size:11px;color:#000;white-space:nowrap;letter-spacing:-0.1px">On Balance Volume</div><div class="ab" style="left:77px;top:941px;width:1112px;height:21px;background:#d4d0c8;border:1px solid #000;border-right:none;box-shadow:inset 0 -1px #fff"></div><div class="ab" style="left:1188px;top:941px;width:61px;height:21px;background:#fffff0;border-top:1px solid #000"></div><div class="hl" style="left:1200px;top:944px;font-size:13px;color:#0000ff">#3001</div><div class="ab" style="left:136px;top:943px;width:1px;height:18px;background:#000"></div><div class="hl" style="left:137px;top:944px;font-size:13px">Mar</div><div class="ab" style="left:298px;top:943px;width:1px;height:18px;background:#000"></div><div class="hl" style="left:299px;top:944px;font-size:13px">Apr</div><div class="ab" style="left:445px;top:943px;width:1px;height:18px;background:#000"></div><div class="hl" style="left:446px;top:944px;font-size:13px">May</div><div class="ab" style="left:585px;top:943px;width:1px;height:18px;background:#000"></div><div class="hl" style="left:586px;top:944px;font-size:13px">Jun</div><div class="ab" style="left:740px;top:943px;width:1px;height:18px;background:#000"></div><div class="hl" style="left:741px;top:944px;font-size:13px">Jul</div><div class="ab" style="left:752px;top:944px;width:56px;height:16px;background:#fffff0;border:1px solid #000"></div><div class="hl" style="left:754px;top:944px;font-size:13px">07/12/21</div><div class="ab" style="left:0;top:963px;width:1280px;height:20px;background:#d4d0c8;border-top:1px solid #fff"></div><div class="ab" style="left:3px;top:967px;font-size:12px;color:#000;letter-spacing:-0.3px">For Help, press F1</div><div class="ab" style="left:954px;top:966px;width:325px;height:17px;border-top:1px solid #808080;border-left:1px solid #808080"></div><div class="ab" style="left:956px;top:967px;font-size:12px;color:#000;letter-spacing:-0.4px">Page: 14 - SP 500 for blog</div><svg class="ab" style="left:0;top:0;pointer-events:none" width="1280" height="983"><line x1="80.5" y1="893.5" x2="80.5" y2="818.4" stroke="#0000ff" stroke-width="1"/><line x1="87.5" y1="893.5" x2="87.5" y2="821.9" stroke="#0000ff" stroke-width="1"/><line x1="94.5" y1="893.5" x2="94.5" y2="824" stroke="#0000ff" stroke-width="1"/><line x1="101.5" y1="893.5" x2="101.5" y2="831.5" stroke="#0000ff" stroke-width="1"/><line x1="108.5" y1="893.5" x2="108.5" y2="846.9" stroke="#0000ff" stroke-width="1"/><line x1="115.5" y1="893.5" x2="115.5" y2="855" stroke="#0000ff" stroke-width="1"/><line x1="122.5" y1="893.5" x2="122.5" y2="863.2" stroke="#0000ff" stroke-width="1"/><line x1="129.5" y1="893.5" x2="129.5" y2="878" stroke="#0000ff" stroke-width="1"/><line x1="136.5" y1="893.5" x2="136.5" y2="882" stroke="#0000ff" stroke-width="1"/><line x1="143.5" y1="893.5" x2="143.5" y2="878.2" stroke="#0000ff" stroke-width="1"/><line x1="150.5" y1="893.5" x2="150.5" y2="886.3" stroke="#0000ff" stroke-width="1"/><line x1="157.5" y1="893.5" x2="157.5" y2="898.4" stroke="#0000ff" stroke-width="1"/><line x1="164.5" y1="893.5" x2="164.5" y2="903.5" stroke="#0000ff" stroke-width="1"/><line x1="171.5" y1="893.5" x2="171.5" y2="908.8" stroke="#0000ff" stroke-width="1"/><line x1="178.5" y1="893.5" x2="178.5" y2="912.5" stroke="#0000ff" stroke-width="1"/><line x1="185.5" y1="893.5" x2="185.5" y2="906.5" stroke="#0000ff" stroke-width="1"/><line x1="192.5" y1="893.5" x2="192.5" y2="885" stroke="#0000ff" stroke-width="1"/><line x1="199.5" y1="893.5" x2="199.5" y2="866" stroke="#0000ff" stroke-width="1"/><line x1="206.5" y1="893.5" x2="206.5" y2="854" stroke="#0000ff" stroke-width="1"/><line x1="213.5" y1="893.5" x2="213.5" y2="844" stroke="#0000ff" stroke-width="1"/><line x1="220.5" y1="893.5" x2="220.5" y2="838" stroke="#0000ff" stroke-width="1"/><line x1="227.5" y1="893.5" x2="227.5" y2="840" stroke="#0000ff" stroke-width="1"/><line x1="234.5" y1="893.5" x2="234.5" y2="847" stroke="#0000ff" stroke-width="1"/><line x1="241.5" y1="893.5" x2="241.5" y2="852" stroke="#0000ff" stroke-width="1"/><line x1="248.5" y1="893.5" x2="248.5" y2="862" stroke="#0000ff" stroke-width="1"/><line x1="255.5" y1="893.5" x2="255.5" y2="871" stroke="#0000ff" stroke-width="1"/><line x1="262.5" y1="893.5" x2="262.5" y2="880" stroke="#0000ff" stroke-width="1"/><line x1="269.5" y1="893.5" x2="269.5" y2="876" stroke="#0000ff" stroke-width="1"/><line x1="276.5" y1="893.5" x2="276.5" y2="873" stroke="#0000ff" stroke-width="1"/><line x1="283.5" y1="893.5" x2="283.5" y2="870" stroke="#0000ff" stroke-width="1"/><line x1="290.5" y1="893.5" x2="290.5" y2="862" stroke="#0000ff" stroke-width="1"/><line x1="297.5" y1="893.5" x2="297.5" y2="846" stroke="#0000ff" stroke-width="1"/><line x1="304.5" y1="893.5" x2="304.5" y2="833" stroke="#0000ff" stroke-width="1"/><line x1="311.5" y1="893.5" x2="311.5" y2="819" stroke="#0000ff" stroke-width="1"/><line x1="318.5" y1="893.5" x2="318.5" y2="804" stroke="#0000ff" stroke-width="1"/><line x1="325.5" y1="893.5" x2="325.5" y2="792" stroke="#0000ff" stroke-width="1"/><line x1="332.5" y1="893.5" x2="332.5" y2="780" stroke="#0000ff" stroke-width="1"/><line x1="339.5" y1="893.5" x2="339.5" y2="775" stroke="#0000ff" stroke-width="1"/><line x1="346.5" y1="893.5" x2="346.5" y2="772" stroke="#0000ff" stroke-width="1"/><line x1="353.5" y1="893.5" x2="353.5" y2="769" stroke="#0000ff" stroke-width="1"/><line x1="360.5" y1="893.5" x2="360.5" y2="765.3" stroke="#0000ff" stroke-width="1"/><line x1="367.5" y1="893.5" x2="367.5" y2="761.2" stroke="#0000ff" stroke-width="1"/><line x1="374.5" y1="893.5" x2="374.5" y2="762" stroke="#0000ff" stroke-width="1"/><line x1="381.5" y1="893.5" x2="381.5" y2="767" stroke="#0000ff" stroke-width="1"/><line x1="388.5" y1="893.5" x2="388.5" y2="771" stroke="#0000ff" stroke-width="1"/><line x1="395.5" y1="893.5" x2="395.5" y2="778" stroke="#0000ff" stroke-width="1"/><line x1="402.5" y1="893.5" x2="402.5" y2="788" stroke="#0000ff" stroke-width="1"/><line x1="409.5" y1="893.5" x2="409.5" y2="793" stroke="#0000ff" stroke-width="1"/><line x1="416.5" y1="893.5" x2="416.5" y2="793" stroke="#0000ff" stroke-width="1"/><line x1="423.5" y1="893.5" x2="423.5" y2="794" stroke="#0000ff" stroke-width="1"/><line x1="430.5" y1="893.5" x2="430.5" y2="793" stroke="#0000ff" stroke-width="1"/><line x1="437.5" y1="893.5" x2="437.5" y2="796" stroke="#0000ff" stroke-width="1"/><line x1="444.5" y1="893.5" x2="444.5" y2="800" stroke="#0000ff" stroke-width="1"/><line x1="451.5" y1="893.5" x2="451.5" y2="809" stroke="#0000ff" stroke-width="1"/><line x1="458.5" y1="893.5" x2="458.5" y2="816" stroke="#0000ff" stroke-width="1"/><line x1="465.5" y1="893.5" x2="465.5" y2="824" stroke="#0000ff" stroke-width="1"/><line x1="472.5" y1="893.5" x2="472.5" y2="825" stroke="#0000ff" stroke-width="1"/><line x1="479.5" y1="893.5" x2="479.5" y2="829" stroke="#0000ff" stroke-width="1"/><line x1="486.5" y1="893.5" x2="486.5" y2="836" stroke="#0000ff" stroke-width="1"/><line x1="493.5" y1="893.5" x2="493.5" y2="851" stroke="#0000ff" stroke-width="1"/><line x1="500.5" y1="893.5" x2="500.5" y2="866" stroke="#0000ff" stroke-width="1"/><line x1="507.5" y1="893.5" x2="507.5" y2="881" stroke="#0000ff" stroke-width="1"/><line x1="514.5" y1="893.5" x2="514.5" y2="892.5" stroke="#0000ff" stroke-width="1"/><line x1="521.5" y1="893.5" x2="521.5" y2="896.6" stroke="#0000ff" stroke-width="1"/><line x1="528.5" y1="893.5" x2="528.5" y2="899" stroke="#0000ff" stroke-width="1"/><line x1="535.5" y1="893.5" x2="535.5" y2="896.6" stroke="#0000ff" stroke-width="1"/><line x1="542.5" y1="893.5" x2="542.5" y2="898.4" stroke="#0000ff" stroke-width="1"/><line x1="549.5" y1="893.5" x2="549.5" y2="896.6" stroke="#0000ff" stroke-width="1"/><line x1="556.5" y1="893.5" x2="556.5" y2="891" stroke="#0000ff" stroke-width="1"/><line x1="563.5" y1="893.5" x2="563.5" y2="877.8" stroke="#0000ff" stroke-width="1"/><line x1="570.5" y1="893.5" x2="570.5" y2="872.2" stroke="#0000ff" stroke-width="1"/><line x1="577.5" y1="893.5" x2="577.5" y2="868" stroke="#0000ff" stroke-width="1"/><line x1="584.5" y1="893.5" x2="584.5" y2="866" stroke="#0000ff" stroke-width="1"/><line x1="591.5" y1="893.5" x2="591.5" y2="866" stroke="#0000ff" stroke-width="1"/><line x1="598.5" y1="893.5" x2="598.5" y2="868" stroke="#0000ff" stroke-width="1"/><line x1="605.5" y1="893.5" x2="605.5" y2="867" stroke="#0000ff" stroke-width="1"/><line x1="612.5" y1="893.5" x2="612.5" y2="866" stroke="#0000ff" stroke-width="1"/><line x1="619.5" y1="893.5" x2="619.5" y2="866" stroke="#0000ff" stroke-width="1"/><line x1="626.5" y1="893.5" x2="626.5" y2="865" stroke="#0000ff" stroke-width="1"/><line x1="633.5" y1="893.5" x2="633.5" y2="860" stroke="#0000ff" stroke-width="1"/><line x1="640.5" y1="893.5" x2="640.5" y2="858.7" stroke="#0000ff" stroke-width="1"/><line x1="647.5" y1="893.5" x2="647.5" y2="857.2" stroke="#0000ff" stroke-width="1"/><line x1="654.5" y1="893.5" x2="654.5" y2="855.3" stroke="#0000ff" stroke-width="1"/><line x1="661.5" y1="893.5" x2="661.5" y2="856.2" stroke="#0000ff" stroke-width="1"/><line x1="668.5" y1="893.5" x2="668.5" y2="859" stroke="#0000ff" stroke-width="1"/><line x1="675.5" y1="893.5" x2="675.5" y2="867" stroke="#0000ff" stroke-width="1"/><line x1="682.5" y1="893.5" x2="682.5" y2="874" stroke="#0000ff" stroke-width="1"/><line x1="689.5" y1="893.5" x2="689.5" y2="877.3" stroke="#0000ff" stroke-width="1"/><line x1="696.5" y1="893.5" x2="696.5" y2="876" stroke="#0000ff" stroke-width="1"/><line x1="703.5" y1="893.5" x2="703.5" y2="870" stroke="#0000ff" stroke-width="1"/><line x1="710.5" y1="893.5" x2="710.5" y2="857.8" stroke="#0000ff" stroke-width="1"/><line x1="717.5" y1="893.5" x2="717.5" y2="846.9" stroke="#0000ff" stroke-width="1"/><line x1="724.5" y1="893.5" x2="724.5" y2="840.9" stroke="#0000ff" stroke-width="1"/><line x1="731.5" y1="893.5" x2="731.5" y2="837" stroke="#0000ff" stroke-width="1"/><line x1="738.5" y1="893.5" x2="738.5" y2="835" stroke="#0000ff" stroke-width="1"/><line x1="745.5" y1="893.5" x2="745.5" y2="831" stroke="#0000ff" stroke-width="1"/><line x1="752.5" y1="893.5" x2="752.5" y2="826.8" stroke="#0000ff" stroke-width="1"/><line x1="759.5" y1="893.5" x2="759.5" y2="823" stroke="#0000ff" stroke-width="1"/><line x1="766.5" y1="893.5" x2="766.5" y2="824" stroke="#0000ff" stroke-width="1"/><line x1="773.5" y1="893.5" x2="773.5" y2="824" stroke="#0000ff" stroke-width="1"/><polyline fill="none" stroke="#000" stroke-width="1" points="80,832 101,831.5 108,832 125,834 150,843 185,843 197,846 210,847 222,846 235,846.5 245,847 265,851 290,854 305,852 317,848 327.4,841.5 340,835.5 358,828 388.7,816 420,811 450,808.4 470,809.6 490,812.5 500,817.8 507,820.6 550,820.6 563,827 590,833.8 620,840.3 640,844 660,845.6 680,846.9 700,849.7 708,853 730,852 750,848.7 773,844.6"/><path d="M101 755 L101 809 M91.5 788.0 L101 809 L110.5 788.0" fill="none" stroke="#ff0000" stroke-width="2"/><path d="M241 772 L241 827 M231.5 806.0 L241 827 L250.5 806.0" fill="none" stroke="#ff0000" stroke-width="2"/><path d="M451 755 L451 795 M441.5 774.0 L451 795 L460.5 774.0" fill="none" stroke="#ff0000" stroke-width="2"/><path d="M675 779 L675 835 M665.5 814.0 L675 835 L684.5 814.0" fill="none" stroke="#ff0000" stroke-width="2"/><path d="M199 920 L199 903 M191 920 L199 903 L207 920" fill="none" stroke="#00ff00" stroke-width="2"/><path d="M283 920 L283 899 M275 920 L283 899 L291 920" fill="none" stroke="#00ff00" stroke-width="2"/><path d="M563 920 L563 900 M555 920 L563 900 L571 920" fill="none" stroke="#00ff00" stroke-width="2"/><path d="M710 920 L710 902 M702 920 L710 902 L718 920" fill="none" stroke="#00ff00" stroke-width="2"/></svg><div class="hl" style="left:78px;top:755px;font-size:13px">Osc 5,35</div><div class="hl" style="left:738px;top:901px;font-size:13px">Osc Buy Signal</div><svg class="ab" style="left:0;top:0" width="1280" height="983"><defs><clipPath id="cc"><rect x="78" y="98" width="1110" height="650"/></clipPath></defs><g clip-path="url(#cc)"><line x1="78" y1="665.3" x2="731.5" y2="559" stroke="#ff00ff" stroke-width="1"/><line x1="78" y1="480.3" x2="802" y2="363" stroke="#ff00ff" stroke-width="1"/><line x1="78" y1="456" x2="382" y2="356" stroke="#ff00ff" stroke-width="1"/><line x1="78" y1="362.4" x2="177" y2="393" stroke="#ff00ff" stroke-width="1"/><line x1="143" y1="351" x2="171.8" y2="341.9" stroke="#ff00ff" stroke-width="1"/><line x1="213.7" y1="344" x2="339" y2="386.3" stroke="#ff00ff" stroke-width="1"/><line x1="362" y1="229" x2="775.5" y2="98" stroke="#ff00ff" stroke-width="1"/><line x1="440" y1="254.5" x2="740" y2="152" stroke="#ff00ff" stroke-width="1"/><line x1="493" y1="299" x2="802" y2="196.4" stroke="#ff00ff" stroke-width="1"/><line x1="360" y1="253" x2="584" y2="332" stroke="#ff00ff" stroke-width="1"/><line x1="472" y1="199.5" x2="600" y2="240.5" stroke="#ff00ff" stroke-width="1"/><line x1="610" y1="222" x2="732" y2="259.7" stroke="#ff00ff" stroke-width="1"/><line x1="370" y1="231" x2="586" y2="303.5" stroke="#ff00ff" stroke-width="1"/><line x1="325" y1="268.5" x2="336" y2="267.5" stroke="#ff00ff" stroke-width="1"/><line x1="94" y1="500.0" x2="109" y2="500.0" stroke="#808080" stroke-width="2"/><line x1="108" y1="496.5" x2="123" y2="496.5" stroke="#c8c8c8" stroke-width="1"/><line x1="122" y1="509.0" x2="130" y2="509.0" stroke="#808080" stroke-width="2"/><line x1="136" y1="508.5" x2="144" y2="508.5" stroke="#c8c8c8" stroke-width="1"/><line x1="213" y1="480.5" x2="235" y2="480.5" stroke="#c8c8c8" stroke-width="1"/><line x1="241" y1="480.5" x2="263" y2="480.5" stroke="#c8c8c8" stroke-width="1"/><line x1="228" y1="486.0" x2="236" y2="486.0" stroke="#808080" stroke-width="2"/><line x1="241" y1="486.0" x2="250" y2="486.0" stroke="#808080" stroke-width="2"/><line x1="78" y1="534.5" x2="263" y2="534.5" stroke="#c8c8c8" stroke-width="1"/><line x1="269" y1="534.5" x2="480" y2="534.5" stroke="#c8c8c8" stroke-width="1"/><line x1="78" y1="540.5" x2="263" y2="540.5" stroke="#c8c8c8" stroke-width="1"/><line x1="269" y1="540.5" x2="459" y2="540.5" stroke="#c8c8c8" stroke-width="1"/><line x1="122" y1="546.0" x2="263" y2="546.0" stroke="#ababab" stroke-width="2"/><line x1="269" y1="546.0" x2="410" y2="546.0" stroke="#ababab" stroke-width="2"/><line x1="144" y1="553.0" x2="264" y2="553.0" stroke="#808080" stroke-width="2"/><line x1="269" y1="553.0" x2="390" y2="553.0" stroke="#808080" stroke-width="2"/><line x1="172" y1="561.0" x2="264" y2="561.0" stroke="#808080" stroke-width="2"/><line x1="269" y1="561.0" x2="362" y2="561.0" stroke="#808080" stroke-width="2"/><line x1="192" y1="567.0" x2="264" y2="567.0" stroke="#808080" stroke-width="2"/><line x1="269" y1="567.0" x2="340" y2="567.0" stroke="#808080" stroke-width="2"/><line x1="213" y1="573.0" x2="264" y2="573.0" stroke="#ababab" stroke-width="2"/><line x1="269" y1="573.0" x2="319" y2="573.0" stroke="#ababab" stroke-width="2"/><line x1="228" y1="579.0" x2="264" y2="579.0" stroke="#808080" stroke-width="2"/><line x1="269" y1="579.0" x2="306" y2="579.0" stroke="#808080" stroke-width="2"/><line x1="249" y1="585.0" x2="263" y2="585.0" stroke="#808080" stroke-width="2"/><line x1="269" y1="584.0" x2="284" y2="584.0" stroke="#ababab" stroke-width="2"/><line x1="78" y1="640.5" x2="95" y2="640.5" stroke="#c8c8c8" stroke-width="1"/><line x1="353" y1="451.5" x2="396" y2="451.5" stroke="#c8c8c8" stroke-width="1"/><line x1="374" y1="456.0" x2="396" y2="456.0" stroke="#808080" stroke-width="2"/><line x1="402" y1="451.5" x2="445" y2="451.5" stroke="#c8c8c8" stroke-width="1"/><line x1="402" y1="456.0" x2="424" y2="456.0" stroke="#808080" stroke-width="2"/><line x1="353" y1="491.5" x2="382" y2="491.5" stroke="#c8c8c8" stroke-width="1"/><line x1="374" y1="497.0" x2="382" y2="497.0" stroke="#ababab" stroke-width="2"/><line x1="388" y1="491.5" x2="416" y2="491.5" stroke="#c8c8c8" stroke-width="1"/><line x1="388" y1="497.0" x2="396" y2="497.0" stroke="#ababab" stroke-width="2"/><line x1="423" y1="432.5" x2="451" y2="432.5" stroke="#c8c8c8" stroke-width="1"/><line x1="438" y1="436.0" x2="451" y2="436.0" stroke="#808080" stroke-width="2"/><line x1="459" y1="432.5" x2="487" y2="432.5" stroke="#c8c8c8" stroke-width="1"/><line x1="459" y1="437.0" x2="474" y2="437.0" stroke="#808080" stroke-width="2"/><line x1="529" y1="326.5" x2="682" y2="326.5" stroke="#c8c8c8" stroke-width="1"/><line x1="374" y1="329.5" x2="529" y2="329.5" stroke="#c8c8c8" stroke-width="1"/><line x1="529" y1="332.0" x2="662" y2="332.0" stroke="#ababab" stroke-width="2"/><line x1="395" y1="335.0" x2="529" y2="335.0" stroke="#ababab" stroke-width="2"/><line x1="529" y1="338.0" x2="619" y2="338.0" stroke="#ababab" stroke-width="2"/><line x1="438" y1="341.0" x2="529" y2="341.0" stroke="#808080" stroke-width="2"/><line x1="529" y1="343.0" x2="577" y2="343.0" stroke="#ababab" stroke-width="2"/><line x1="479" y1="346.0" x2="529" y2="346.0" stroke="#808080" stroke-width="2"/><line x1="529" y1="347.0" x2="542" y2="347.0" stroke="#ababab" stroke-width="2"/><line x1="515" y1="351.0" x2="529" y2="351.0" stroke="#808080" stroke-width="2"/><line x1="373" y1="391.5" x2="494" y2="391.5" stroke="#c8c8c8" stroke-width="1"/><line x1="500" y1="391.0" x2="620" y2="391.0" stroke="#ababab" stroke-width="2"/><line x1="438" y1="397.0" x2="494" y2="397.0" stroke="#ababab" stroke-width="2"/><line x1="500" y1="397.0" x2="557" y2="397.0" stroke="#ababab" stroke-width="2"/><line x1="480" y1="403.0" x2="494" y2="403.0" stroke="#808080" stroke-width="2"/><line x1="500" y1="403.0" x2="516" y2="403.0" stroke="#808080" stroke-width="2"/><line x1="374" y1="634.0" x2="507" y2="634.0" stroke="#ababab" stroke-width="2"/><line x1="514" y1="634.0" x2="648" y2="634.0" stroke="#ababab" stroke-width="2"/><line x1="438" y1="639.0" x2="507" y2="639.0" stroke="#ababab" stroke-width="2"/><line x1="514" y1="640.0" x2="585" y2="640.0" stroke="#ababab" stroke-width="2"/><line x1="480" y1="645.0" x2="507" y2="645.0" stroke="#808080" stroke-width="2"/><line x1="514" y1="645.0" x2="543" y2="645.0" stroke="#ababab" stroke-width="2"/><line x1="557" y1="470.5" x2="676" y2="470.5" stroke="#c8c8c8" stroke-width="1"/><line x1="682" y1="470.5" x2="802" y2="470.5" stroke="#c8c8c8" stroke-width="1"/><line x1="586" y1="476.5" x2="676" y2="476.5" stroke="#c8c8c8" stroke-width="1"/><line x1="682" y1="475.5" x2="774" y2="475.5" stroke="#c8c8c8" stroke-width="1"/><line x1="612" y1="481.0" x2="677" y2="481.0" stroke="#808080" stroke-width="2"/><line x1="682" y1="480.0" x2="747" y2="480.0" stroke="#808080" stroke-width="2"/><line x1="654" y1="486.0" x2="676" y2="486.0" stroke="#ababab" stroke-width="2"/><line x1="682" y1="486.0" x2="704" y2="486.0" stroke="#ababab" stroke-width="2"/><line x1="78" y1="691.5" x2="165" y2="691.5" stroke="#0000ff" stroke-width="1"/><line x1="171" y1="691.5" x2="263" y2="691.5" stroke="#0000ff" stroke-width="1"/><line x1="122" y1="698.0" x2="165" y2="698.0" stroke="#0000ff" stroke-width="2"/><line x1="173" y1="698.0" x2="214" y2="698.0" stroke="#0000ff" stroke-width="2"/><line x1="151" y1="705.0" x2="165" y2="705.0" stroke="#0000ff" stroke-width="2"/><line x1="171" y1="705.0" x2="187" y2="705.0" stroke="#0000ff" stroke-width="2"/><line x1="108.0" y1="500" x2="108.0" y2="531" stroke="#808080" stroke-width="2"/><line x1="129.0" y1="508.8" x2="129.0" y2="539.4" stroke="#808080" stroke-width="2"/><line x1="234.0" y1="486.3" x2="234.0" y2="517" stroke="#808080" stroke-width="2"/><line x1="262.0" y1="584.6" x2="262.0" y2="631.6" stroke="#808080" stroke-width="2"/><line x1="395.0" y1="455.6" x2="395.0" y2="487.5" stroke="#808080" stroke-width="2"/><line x1="381.0" y1="497" x2="381.0" y2="527" stroke="#808080" stroke-width="2"/><line x1="451.0" y1="436.5" x2="451.0" y2="466.9" stroke="#808080" stroke-width="2"/><line x1="493.0" y1="402.8" x2="493.0" y2="437" stroke="#808080" stroke-width="2"/><line x1="528.0" y1="350.8" x2="528.0" y2="384.4" stroke="#808080" stroke-width="2"/><line x1="507.0" y1="645" x2="507.0" y2="691.5" stroke="#808080" stroke-width="2"/><line x1="675.0" y1="485.8" x2="675.0" y2="519.2" stroke="#808080" stroke-width="2"/><line x1="164.0" y1="704.7" x2="164.0" y2="750" stroke="#0000ff" stroke-width="2"/><path fill="none" stroke="#1a8c8c" stroke-width="1.1" d="M81.8,577.0 C87.4,575.0 103.6,567.8 115.5,564.7 C127.4,561.6 143.6,559.6 153.0,558.5 C162.4,557.4 162.4,560.0 171.8,557.8 C181.2,555.5 196.8,548.9 209.3,545.0 C221.8,541.1 238.7,536.6 246.8,534.7 C254.9,532.8 250.8,535.2 258.0,533.4 C265.2,531.6 278.9,528.4 289.9,524.0 C300.8,519.6 313.4,513.0 323.7,507.2 C334.0,501.4 344.0,494.4 351.8,489.4 C359.6,484.4 362.7,481.6 370.5,477.2 C378.3,472.8 389.2,468.2 398.6,463.1 C408.0,458.0 418.1,450.8 426.8,446.3 C435.6,441.8 442.6,439.8 451.1,436.0 C459.6,432.2 470.2,426.3 478.0,423.8 C485.8,421.3 487.1,423.2 498.0,421.0 C508.9,418.8 533.3,413.3 543.6,410.6 C553.9,407.9 550.5,408.3 560.0,405.0 C569.5,401.7 585.8,395.6 600.7,390.9 C615.6,386.2 633.2,380.5 649.5,376.6 C665.8,372.7 684.4,371.1 698.3,367.5 C712.2,363.9 720.3,360.2 732.9,355.3 C745.5,350.4 766.8,340.9 773.6,338.0"/><path fill="none" stroke="#4040ff" stroke-width="1.3" d="M78.0,665.3 C81.8,663.6 91.1,658.9 100.5,655.0 C109.9,651.1 122.3,646.4 134.2,641.9 C146.1,637.4 159.3,632.3 171.8,627.8 C184.3,623.3 196.8,618.9 209.3,614.7 C221.8,610.5 237.4,605.5 246.8,602.5 C256.2,599.5 259.2,599.1 265.5,596.9 C271.8,594.7 276.5,592.2 284.3,589.4 C292.1,586.6 301.4,584.1 312.4,580.0 C323.3,575.9 335.4,570.8 350.0,565.0 C364.6,559.2 383.3,551.7 400.0,545.0 C416.7,538.3 433.7,531.6 450.0,525.0 C466.3,518.4 483.3,511.0 498.0,505.3 C512.7,499.6 526.0,495.0 538.0,490.8 C550.0,486.6 556.4,484.9 570.2,480.0 C584.0,475.1 602.4,467.2 621.0,461.5 C639.6,455.8 665.0,450.8 682.0,445.8 C699.0,440.8 707.5,437.7 722.8,431.6 C738.1,425.6 765.1,413.2 773.6,409.5"/><path fill="none" stroke="#00ffff" stroke-width="1.2" d="M80.8,720.2 C92.3,717.1 130.1,706.7 150.0,701.5 C169.9,696.3 183.3,693.2 200.0,689.0 C216.7,684.8 231.3,680.7 250.0,676.0 C268.7,671.3 299.1,663.8 312.4,660.6 C325.6,657.4 315.8,661.1 329.5,656.6 C343.2,652.1 370.9,641.6 394.5,633.6 C418.1,625.6 446.8,615.8 471.0,608.8 C495.2,601.8 525.5,595.8 540.0,591.8 C554.5,587.8 540.4,590.6 558.0,585.0 C575.6,579.4 622.3,564.5 645.8,558.0 C669.2,551.5 687.4,549.3 698.7,546.3 C710.0,543.3 701.1,544.1 713.5,540.0 C725.9,535.9 763.1,524.5 773.0,521.4"/><line x1="842" y1="176.5" x2="900" y2="176.5" stroke="#ff2020" stroke-width="1"/><line x1="842" y1="470.5" x2="900" y2="470.5" stroke="#ff2020" stroke-width="1"/><polyline fill="none" stroke="#ff8000" stroke-width="1" stroke-linejoin="round" points="80.5,407.6 87.5,409.3 94.5,411.8 101.5,419.0 108.5,422.9 115.5,417.4 122.5,431.5 129.5,444.2 136.5,436.0 143.5,436.3 150.5,445.9 157.5,461.8 164.5,458.7 171.5,460.5 178.5,451.7 185.5,441.5 192.5,427.2 199.5,416.9 206.5,405.3 213.5,398.7 220.5,392.2 227.5,398.7 234.5,403.5 241.5,401.6 248.5,405.9 255.5,412.8 262.5,413.5 269.5,402.0 276.5,395.0 283.5,392.6 290.5,388.3 297.5,376.8 304.5,358.4 311.5,346.8 318.5,338.0 325.5,328.9 332.5,317.0 339.5,309.2 346.5,301.5 353.5,299.5 360.5,289.7 367.5,280.3 374.5,278.2 381.5,282.1 388.5,277.5 395.5,281.6 402.5,275.9 409.5,270.8 416.5,267.5 423.5,266.0 430.5,259.7 437.5,261.1 444.5,260.0 451.5,264.4 458.5,266.8 465.5,262.1 472.5,253.2 479.5,255.5 486.5,263.7 493.5,285.7 500.5,291.2 507.5,283.5 514.5,280.3 521.5,284.8 528.5,290.0 535.5,285.4 542.5,283.0 549.5,273.7 556.5,269.2 563.5,264.7 570.5,260.8 577.5,257.7 584.5,255.9 591.5,253.6 598.5,254.9 605.5,248.9 612.5,245.6 619.5,243.2 626.5,243.0 633.5,239.3 640.5,235.2 647.5,231.1 654.5,230.0 661.5,233.4 668.5,236.1 675.5,248.1 682.5,245.4 689.5,239.5 696.5,236.4 703.5,229.8 710.5,222.8 717.5,216.2 724.5,211.7 731.5,207.6 738.5,200.7 745.5,190.1 752.5,184.6 759.5,178.3 766.5,181.0 773.5,173.7"/><polyline fill="none" stroke="#ff8000" stroke-width="1" stroke-linejoin="round" points="80.5,345.7 87.5,347.4 94.5,349.9 101.5,357.4 108.5,361.4 115.5,355.7 122.5,370.2 129.5,383.3 136.5,374.8 143.5,375.1 150.5,385.0 157.5,401.3 164.5,398.2 171.5,400.1 178.5,391.0 185.5,380.5 192.5,365.8 199.5,355.2 206.5,343.3 213.5,336.5 220.5,329.8 227.5,336.5 234.5,341.4 241.5,339.5 248.5,343.9 255.5,351.0 262.5,351.8 269.5,339.9 276.5,332.6 283.5,330.2 290.5,325.8 297.5,314.0 304.5,295.0 311.5,283.1 318.5,274.0 325.5,264.7 332.5,252.5 339.5,244.4 346.5,236.5 353.5,234.4 360.5,224.3 367.5,214.7 374.5,212.6 381.5,216.5 388.5,211.8 395.5,216.0 402.5,210.2 409.5,204.9 416.5,201.6 423.5,200.0 430.5,193.6 437.5,195.0 444.5,193.8 451.5,198.4 458.5,200.8 465.5,196.0 472.5,186.9 479.5,189.2 486.5,197.7 493.5,220.3 500.5,226.0 507.5,218.0 514.5,214.8 521.5,219.3 528.5,224.7 535.5,220.0 542.5,217.5 549.5,208.0 556.5,203.3 563.5,198.7 570.5,194.7 577.5,191.4 584.5,189.7 591.5,187.3 598.5,188.6 605.5,182.5 612.5,179.0 619.5,176.6 626.5,176.4 633.5,172.5 640.5,168.4 647.5,164.2 654.5,163.0 661.5,166.5 668.5,169.3 675.5,181.7 682.5,178.8 689.5,172.8 696.5,169.6 703.5,162.8 710.5,155.6 717.5,148.9 724.5,144.1 731.5,139.9 738.5,132.8 745.5,121.9 752.5,116.3 759.5,109.8 766.5,112.6 773.5,105.2"/><polyline fill="none" stroke="#800000" stroke-width="1" stroke-linejoin="round" points="80.5,344.0 87.5,340.8 94.5,338.5 101.5,337.6 108.5,336.8 115.5,333.4 122.5,337.0 129.5,338.0 136.5,347.4 143.5,353.1 150.5,352.7 157.5,347.1 164.5,346.8 171.5,346.4 178.5,348.3 185.5,349.1 192.5,346.6 199.5,344.3 206.5,340.7 213.5,337.8 220.5,333.7 227.5,333.6 234.5,333.2 241.5,330.2 248.5,329.2 255.5,330.8 262.5,330.4 269.5,326.6 276.5,322.3 283.5,319.3 290.5,317.6 297.5,318.7 304.5,305.7 311.5,298.7 318.5,289.2 325.5,278.2 332.5,263.9 339.5,252.0 346.5,240.0 353.5,231.3 360.5,218.6 367.5,207.1 374.5,200.2 381.5,196.3 388.5,192.1 395.5,195.3 402.5,196.0 409.5,193.1 416.5,192.6 423.5,196.7 430.5,200.4 437.5,204.6 444.5,203.9 451.5,206.4 458.5,209.7 465.5,210.0 472.5,204.7 479.5,204.9 486.5,205.3 493.5,197.6 500.5,196.5 507.5,197.0 514.5,197.0 521.5,196.7 528.5,196.4 535.5,196.4 542.5,197.1 549.5,196.5 556.5,196.4 563.5,195.6 570.5,196.5 577.5,195.0 584.5,194.4 591.5,192.1 598.5,191.1 605.5,188.6 612.5,189.2 619.5,186.3 626.5,183.6 633.5,186.4 640.5,184.9 647.5,180.2 654.5,177.2 661.5,178.8 668.5,184.0 675.5,184.6 682.5,186.5 689.5,184.6 696.5,183.7 703.5,180.2 710.5,175.3 717.5,169.9 724.5,165.3 731.5,160.7 738.5,154.6 745.5,143.8 752.5,136.2 759.5,127.9 766.5,124.9 773.5,117.0"/><path fill="none" stroke="#ff0000" stroke-width="1" d="M80.5,370.0 C83.2,369.0 91.0,365.9 96.8,363.8 C102.6,361.7 109.9,359.2 115.5,357.5 C121.1,355.8 126.8,354.6 130.5,353.8 C134.2,353.0 134.2,352.9 138.0,352.5 C141.8,352.1 148.4,351.7 153.0,351.3 C157.6,350.9 161.8,350.4 165.5,350.0 C169.2,349.6 172.6,349.1 175.5,348.8 C178.4,348.5 180.5,348.6 183.0,348.0 C185.5,347.4 187.2,346.3 190.5,345.0 C193.8,343.7 198.8,341.6 203.0,340.0 C207.2,338.4 209.7,337.8 215.5,335.6 C221.3,333.4 231.4,328.9 238.0,326.9 C244.6,324.9 250.3,324.9 255.0,323.6 C259.7,322.3 262.5,320.3 266.2,319.0 C269.9,317.7 273.7,316.8 277.4,315.7 C281.1,314.6 284.9,313.7 288.6,312.4 C292.3,311.1 296.0,309.8 299.7,307.9 C303.4,306.0 307.6,303.5 311.0,301.2 C314.4,298.9 316.6,296.5 320.0,294.0 C323.4,291.5 327.5,288.7 331.2,286.0 C334.9,283.3 338.7,280.5 342.4,278.0 C346.1,275.5 349.9,273.3 353.6,271.0 C357.3,268.7 361.0,266.4 364.7,264.0 C368.4,261.6 372.2,258.8 375.9,256.5 C379.6,254.2 383.1,252.6 387.1,250.3 C391.1,248.0 394.4,245.4 400.0,242.5 C405.6,239.6 413.9,236.1 420.7,232.6 C427.5,229.1 435.9,224.3 441.0,221.4 C446.1,218.5 447.8,217.2 451.2,215.3 C454.6,213.4 458.0,211.9 461.4,210.2 C464.8,208.5 468.5,206.3 471.6,205.1 C474.7,203.9 477.1,204.0 480.2,203.0 C483.3,202.0 486.1,200.2 490.3,199.0 C494.5,197.8 500.5,197.3 505.6,196.0 C510.7,194.7 515.0,192.8 520.9,190.9 C526.8,189.0 535.0,186.4 541.2,184.8 C547.4,183.2 552.9,182.5 558.0,181.4 C563.1,180.3 565.8,180.0 572.0,178.0 C578.2,176.0 587.7,172.5 595.5,169.6 C603.3,166.7 610.4,163.6 619.0,160.7 C627.6,157.8 640.0,154.4 647.0,152.3 C654.0,150.2 655.8,149.1 661.0,148.0 C666.2,146.9 670.5,147.3 678.0,145.7 C685.5,144.1 698.3,140.8 706.1,138.2 C713.9,135.5 718.6,132.5 724.9,129.8 C731.1,127.2 738.1,124.7 743.6,122.3 C749.1,119.9 752.7,118.0 757.7,115.7 C762.7,113.4 771.0,109.5 773.6,108.2"/><polyline fill="none" stroke="#00ffff" stroke-width="1.2" stroke-linejoin="round" points="80.5,418.1 87.5,416.3 94.5,414.8 101.5,413.8 108.5,413.1 115.5,411.0 122.5,408.8 129.5,408.1 136.5,402.8 143.5,400.1 150.5,400.3 157.5,402.0 164.5,402.9 171.5,404.7 178.5,405.8 185.5,406.2 192.5,405.3 199.5,404.6 206.5,403.6 213.5,402.8 220.5,401.6 227.5,401.5 234.5,401.4 241.5,399.6 248.5,398.7 255.5,399.8 262.5,397.5 269.5,392.9 276.5,390.9 283.5,388.5 290.5,384.2 297.5,377.1 304.5,370.4 311.5,363.3 318.5,357.6 325.5,352.0 332.5,346.7 339.5,341.5 346.5,336.6 353.5,332.0 360.5,326.5 367.5,318.9 374.5,311.9 381.5,306.4 388.5,299.0 395.5,292.1 402.5,284.5 409.5,278.5 416.5,272.4 423.5,266.1 430.5,259.4 437.5,254.8 444.5,251.6 451.5,249.1 458.5,246.6 465.5,243.6 472.5,240.7 479.5,239.0 486.5,238.7 493.5,240.5 500.5,242.1 507.5,242.4 514.5,242.4 521.5,242.6 528.5,244.2 535.5,243.6 542.5,244.2 549.5,244.0 556.5,243.9 563.5,243.6 570.5,243.9 577.5,243.2 584.5,243.0 591.5,241.7 598.5,241.0 605.5,240.2 612.5,240.4 619.5,239.3 626.5,237.4 633.5,232.5 640.5,228.7 647.5,226.4 654.5,224.0 661.5,221.3 668.5,218.3 675.5,218.1 682.5,216.2 689.5,214.8 696.5,213.3 703.5,211.3 710.5,209.1 717.5,206.6 724.5,204.1 731.5,201.6 738.5,198.0 745.5,194.6 752.5,191.3 759.5,187.6 766.5,184.7 773.5,181.1"/><polyline fill="none" stroke="#00ffff" stroke-width="1.2" stroke-linejoin="round" points="80.5,409.4 87.5,407.6 94.5,406.1 101.5,405.1 108.5,404.4 115.5,402.2 122.5,400.0 129.5,399.3 136.5,394.0 143.5,391.3 150.5,391.5 157.5,393.2 164.5,394.1 171.5,395.9 178.5,397.1 185.5,397.4 192.5,396.6 199.5,395.8 206.5,394.9 213.5,394.0 220.5,392.8 227.5,392.8 234.5,392.6 241.5,390.8 248.5,390.0 255.5,391.0 262.5,388.7 269.5,384.1 276.5,382.1 283.5,379.6 290.5,375.3 297.5,368.2 304.5,361.5 311.5,354.4 318.5,348.6 325.5,343.0 332.5,337.7 339.5,332.5 346.5,327.6 353.5,323.0 360.5,317.5 367.5,309.8 374.5,302.8 381.5,297.3 388.5,289.8 395.5,282.9 402.5,275.2 409.5,269.2 416.5,263.1 423.5,256.8 430.5,250.0 437.5,245.5 444.5,242.2 451.5,239.7 458.5,237.2 465.5,234.2 472.5,231.3 479.5,229.6 486.5,229.3 493.5,231.0 500.5,232.7 507.5,233.0 514.5,233.0 521.5,233.2 528.5,234.8 535.5,234.2 542.5,234.8 549.5,234.6 556.5,234.5 563.5,234.2 570.5,234.5 577.5,233.8 584.5,233.6 591.5,232.3 598.5,231.6 605.5,230.8 612.5,231.0 619.5,229.9 626.5,228.0 633.5,223.0 640.5,219.2 647.5,216.9 654.5,214.6 661.5,211.8 668.5,208.8 675.5,208.6 682.5,206.7 689.5,205.3 696.5,203.8 703.5,201.8 710.5,199.5 717.5,197.1 724.5,194.5 731.5,192.0 738.5,188.4 745.5,185.0 752.5,181.7 759.5,178.0 766.5,175.1 773.5,171.4"/><polyline fill="none" stroke="#e0e000" stroke-width="1.2" stroke-linejoin="round" points="80.5,413.7 87.5,412.0 94.5,410.5 101.5,409.5 108.5,408.7 115.5,406.6 122.5,404.4 129.5,403.7 136.5,398.4 143.5,395.7 150.5,395.9 157.5,397.6 164.5,398.5 171.5,400.3 178.5,401.5 185.5,401.8 192.5,401.0 199.5,400.2 206.5,399.2 213.5,398.4 220.5,397.2 227.5,397.2 234.5,397.0 241.5,395.2 248.5,394.3 255.5,395.4 262.5,393.1 269.5,388.5 276.5,386.5 283.5,384.1 290.5,379.7 297.5,372.6 304.5,366.0 311.5,358.9 318.5,353.1 325.5,347.5 332.5,342.2 339.5,337.0 346.5,332.1 353.5,327.5 360.5,322.0 367.5,314.4 374.5,307.3 381.5,301.8 388.5,294.4 395.5,287.5 402.5,279.9 409.5,273.8 416.5,267.8 423.5,261.4 430.5,254.7 437.5,250.2 444.5,246.9 451.5,244.4 458.5,241.9 465.5,238.9 472.5,236.0 479.5,234.3 486.5,234.0 493.5,235.8 500.5,237.4 507.5,237.7 514.5,237.7 521.5,237.9 528.5,239.5 535.5,238.9 542.5,239.5 549.5,239.3 556.5,239.2 563.5,238.9 570.5,239.2 577.5,238.5 584.5,238.3 591.5,237.0 598.5,236.3 605.5,235.5 612.5,235.7 619.5,234.6 626.5,232.7 633.5,227.7 640.5,223.9 647.5,221.6 654.5,219.3 661.5,216.6 668.5,213.6 675.5,213.4 682.5,211.4 689.5,210.1 696.5,208.5 703.5,206.5 710.5,204.3 717.5,201.9 724.5,199.3 731.5,196.8 738.5,193.2 745.5,189.8 752.5,186.5 759.5,182.8 766.5,179.9 773.5,176.2"/><polyline fill="none" stroke="#00a000" stroke-width="1" stroke-linejoin="round" points="80.5,414.9 87.5,413.2 94.5,411.7 101.5,410.7 108.5,409.9 115.5,407.8 122.5,405.6 129.5,404.9 136.5,399.6 143.5,396.9 150.5,397.1 157.5,398.8 164.5,399.7 171.5,401.5 178.5,402.7 185.5,403.0 192.5,402.2 199.5,401.4 206.5,400.4 213.5,399.6 220.5,398.4 227.5,398.4 234.5,398.2 241.5,396.4 248.5,395.5 255.5,396.6 262.5,394.3 269.5,389.7 276.5,387.7 283.5,385.3 290.5,380.9 297.5,373.8 304.5,367.2 311.5,360.1 318.5,354.3 325.5,348.7 332.5,343.4 339.5,338.2 346.5,333.3 353.5,328.7 360.5,323.2 367.5,315.6 374.5,308.5 381.5,303.0 388.5,295.6 395.5,288.7 402.5,281.1 409.5,275.0 416.5,269.0 423.5,262.6 430.5,255.9 437.5,251.4 444.5,248.1 451.5,245.6 458.5,243.1 465.5,240.1 472.5,237.2 479.5,235.5 486.5,235.2 493.5,237.0 500.5,238.6 507.5,238.9 514.5,238.9 521.5,239.1 528.5,240.7 535.5,240.1 542.5,240.7 549.5,240.5 556.5,240.4 563.5,240.1 570.5,240.4 577.5,239.7 584.5,239.5 591.5,238.2 598.5,237.5 605.5,236.7 612.5,236.9 619.5,235.8 626.5,233.9 633.5,228.9 640.5,225.1 647.5,222.8 654.5,220.5 661.5,217.8 668.5,214.8 675.5,214.6 682.5,212.6 689.5,211.3 696.5,209.7 703.5,207.7 710.5,205.5 717.5,203.1 724.5,200.5 731.5,198.0 738.5,194.4 745.5,191.0 752.5,187.7 759.5,184.0 766.5,181.1 773.5,177.4"/><polyline fill="none" stroke="#ff00ff" stroke-width="1" stroke-linejoin="round" points="80.5,382.2 87.5,383.9 94.5,386.4 101.5,393.7 108.5,397.6 115.5,392.0 122.5,406.3 129.5,419.2 136.5,410.8 143.5,411.2 150.5,420.9 157.5,436.9 164.5,433.9 171.5,435.7 178.5,426.8 185.5,416.4 192.5,401.9 199.5,391.5 206.5,379.8 213.5,373.1 220.5,366.6 227.5,373.2 234.5,378.0 241.5,376.1 248.5,380.5 255.5,387.4 262.5,388.2 269.5,376.5 276.5,369.4 283.5,367.0 290.5,362.7 297.5,351.0 304.5,332.3 311.5,320.6 318.5,311.7 325.5,302.5 332.5,290.5 339.5,282.6 346.5,274.8 353.5,272.8 360.5,262.8 367.5,253.4 374.5,251.3 381.5,255.1 388.5,250.5 395.5,254.6 402.5,248.9 409.5,243.7 416.5,240.4 423.5,238.9 430.5,232.5 437.5,234.0 444.5,232.8 451.5,237.3 458.5,239.7 465.5,234.9 472.5,226.0 479.5,228.2 486.5,236.6 493.5,258.8 500.5,264.4 507.5,256.6 514.5,253.4 521.5,257.9 528.5,263.2 535.5,258.6 542.5,256.1 549.5,246.7 556.5,242.2 563.5,237.6 570.5,233.7 577.5,230.5 584.5,228.7 591.5,226.4 598.5,227.7 605.5,221.6 612.5,218.2 619.5,215.8 626.5,215.6 633.5,211.9 640.5,207.8 647.5,203.6 654.5,202.5 661.5,206.0 668.5,208.7 675.5,220.8 682.5,218.0 689.5,212.1 696.5,209.0 703.5,202.3 710.5,195.2 717.5,188.6 724.5,183.9 731.5,179.8 738.5,172.8 745.5,162.1 752.5,156.6 759.5,150.2 766.5,152.9 773.5,145.6"/><polyline fill="none" stroke="#ff00ff" stroke-width="1" stroke-linejoin="round" points="80.5,371.1 87.5,372.8 94.5,375.3 101.5,382.7 108.5,386.7 115.5,381.0 122.5,395.4 129.5,408.4 136.5,399.9 143.5,400.3 150.5,410.0 157.5,426.2 164.5,423.1 171.5,424.9 178.5,415.9 185.5,405.5 192.5,391.0 199.5,380.5 206.5,368.7 213.5,362.0 220.5,355.4 227.5,362.1 234.5,366.9 241.5,365.0 248.5,369.4 255.5,376.3 262.5,377.1 269.5,365.4 276.5,358.2 283.5,355.8 290.5,351.5 297.5,339.8 304.5,321.0 311.5,309.3 318.5,300.3 325.5,291.1 332.5,279.0 339.5,271.0 346.5,263.2 353.5,261.2 360.5,251.2 367.5,241.7 374.5,239.5 381.5,243.4 388.5,238.8 395.5,242.9 402.5,237.2 409.5,232.0 416.5,228.6 423.5,227.1 430.5,220.7 437.5,222.2 444.5,221.0 451.5,225.5 458.5,227.9 465.5,223.1 472.5,214.1 479.5,216.4 486.5,224.8 493.5,247.2 500.5,252.8 507.5,244.9 514.5,241.7 521.5,246.2 528.5,251.5 535.5,246.9 542.5,244.4 549.5,235.0 556.5,230.4 563.5,225.8 570.5,221.9 577.5,218.6 584.5,216.9 591.5,214.5 598.5,215.9 605.5,209.8 612.5,206.3 619.5,203.9 626.5,203.8 633.5,199.9 640.5,195.8 647.5,191.7 654.5,190.5 661.5,194.0 668.5,196.7 675.5,209.0 682.5,206.1 689.5,200.2 696.5,197.0 703.5,190.3 710.5,183.2 717.5,176.5 724.5,171.9 731.5,167.7 738.5,160.7 745.5,149.9 752.5,144.4 759.5,137.9 766.5,140.7 773.5,133.3"/><polyline fill="none" stroke="#00ff00" stroke-width="1" stroke-linejoin="round" points="80.5,376.7 87.5,378.3 94.5,380.8 101.5,388.2 108.5,392.2 115.5,386.5 122.5,400.8 129.5,413.8 136.5,405.4 143.5,405.7 150.5,415.4 157.5,431.5 164.5,428.5 171.5,430.3 178.5,421.4 185.5,411.0 192.5,396.5 199.5,386.0 206.5,374.3 213.5,367.6 220.5,361.0 227.5,367.6 234.5,372.5 241.5,370.6 248.5,374.9 255.5,381.9 262.5,382.7 269.5,371.0 276.5,363.8 283.5,361.4 290.5,357.1 297.5,345.4 304.5,326.7 311.5,315.0 318.5,306.0 325.5,296.8 332.5,284.7 339.5,276.8 346.5,269.0 353.5,267.0 360.5,257.0 367.5,247.5 374.5,245.4 381.5,249.3 388.5,244.7 395.5,248.8 402.5,243.1 409.5,237.8 416.5,234.5 423.5,233.0 430.5,226.6 437.5,228.1 444.5,226.9 451.5,231.4 458.5,233.8 465.5,229.0 472.5,220.0 479.5,222.3 486.5,230.7 493.5,253.0 500.5,258.6 507.5,250.8 514.5,247.6 521.5,252.1 528.5,257.4 535.5,252.7 542.5,250.3 549.5,240.9 556.5,236.3 563.5,231.7 570.5,227.8 577.5,224.6 584.5,222.8 591.5,220.5 598.5,221.8 605.5,215.7 612.5,212.3 619.5,209.9 626.5,209.7 633.5,205.9 640.5,201.8 647.5,197.6 654.5,196.5 661.5,200.0 668.5,202.7 675.5,214.9 682.5,212.1 689.5,206.1 696.5,203.0 703.5,196.3 710.5,189.2 717.5,182.5 724.5,177.9 731.5,173.7 738.5,166.7 745.5,156.0 752.5,150.5 759.5,144.1 766.5,146.8 773.5,139.5"/><polyline fill="none" stroke="#949494" stroke-width="2" stroke-linejoin="round" points="80.5,479.0 87.5,477.3 94.5,475.8 101.5,474.9 108.5,474.2 115.5,472.1 122.5,469.9 129.5,469.3 136.5,464.1 143.5,461.5 150.5,461.7 157.5,463.4 164.5,464.2 171.5,466.0 178.5,467.1 185.5,467.4 192.5,466.6 199.5,465.9 206.5,464.9 213.5,464.1 220.5,463.0 227.5,462.9 234.5,462.7 241.5,461.0 248.5,460.2 255.5,461.2 262.5,459.0 269.5,454.5 276.5,452.6 283.5,450.2 290.5,446.0 297.5,439.1 304.5,432.7 311.5,425.8 318.5,420.2 325.5,414.8 332.5,409.6 339.5,404.5 346.5,399.8 353.5,395.4 360.5,390.0 367.5,382.6 374.5,375.8 381.5,370.5 388.5,363.3 395.5,356.5 402.5,349.1 409.5,343.3 416.5,337.4 423.5,331.3 430.5,324.7 437.5,320.3 444.5,317.2 451.5,314.7 458.5,312.3 465.5,309.5 472.5,306.6 479.5,305.0 486.5,304.7 493.5,306.4 500.5,307.9 507.5,308.3 514.5,308.3 521.5,308.5 528.5,310.0 535.5,309.4 542.5,310.0 549.5,309.8 556.5,309.7 563.5,309.4 570.5,309.7 577.5,309.1 584.5,308.8 591.5,307.6 598.5,306.9 605.5,306.1 612.5,306.3 619.5,305.2 626.5,303.4 633.5,298.6 640.5,294.9 647.5,292.7 654.5,290.4 661.5,287.8 668.5,284.9 675.5,284.7 682.5,282.8 689.5,281.4 696.5,280.0 703.5,278.0 710.5,275.8 717.5,273.5 724.5,271.0 731.5,268.6 738.5,265.1 745.5,261.8 752.5,258.6 759.5,255.0 766.5,252.2 773.5,248.6"/><polyline fill="none" stroke="#949494" stroke-width="2" stroke-linejoin="round" points="80.5,344.1 87.5,342.3 94.5,340.7 101.5,339.7 108.5,339.0 115.5,336.8 122.5,334.5 129.5,333.8 136.5,328.3 143.5,325.5 150.5,325.7 157.5,327.5 164.5,328.4 171.5,330.3 178.5,331.4 185.5,331.8 192.5,330.9 199.5,330.2 206.5,329.2 213.5,328.3 220.5,327.0 227.5,327.0 234.5,326.8 241.5,325.0 248.5,324.1 255.5,325.2 262.5,322.8 269.5,318.1 276.5,316.1 283.5,313.5 290.5,309.0 297.5,301.7 304.5,294.8 311.5,287.5 318.5,281.5 325.5,275.8 332.5,270.3 339.5,264.9 346.5,259.9 353.5,255.1 360.5,249.4 367.5,241.6 374.5,234.3 381.5,228.6 388.5,221.0 395.5,213.8 402.5,206.0 409.5,199.8 416.5,193.5 423.5,186.9 430.5,180.0 437.5,175.3 444.5,172.0 451.5,169.3 458.5,166.8 465.5,163.7 472.5,160.7 479.5,159.0 486.5,158.7 493.5,160.4 500.5,162.1 507.5,162.5 514.5,162.5 521.5,162.7 528.5,164.4 535.5,163.7 542.5,164.4 549.5,164.1 556.5,164.0 563.5,163.7 570.5,164.0 577.5,163.3 584.5,163.0 591.5,161.8 598.5,161.0 605.5,160.2 612.5,160.4 619.5,159.3 626.5,157.3 633.5,152.2 640.5,148.2 647.5,145.9 654.5,143.5 661.5,140.7 668.5,137.6 675.5,137.4 682.5,135.4 689.5,133.9 696.5,132.4 703.5,130.3 710.5,128.0 717.5,125.5 724.5,122.9 731.5,120.3 738.5,116.6 745.5,113.0 752.5,109.6 759.5,105.8 766.5,102.8 773.5,99.0"/><polyline fill="none" stroke="#000" stroke-width="1" stroke-linejoin="round" points="80.5,483.5 87.5,483.1 94.5,482.5 101.5,481.3 108.5,480.7 115.5,479.8 122.5,471.8 129.5,469.4 136.5,449.5 143.5,438.3 150.5,439.1 157.5,448.2 164.5,450.1 171.5,454.2 178.5,454.6 185.5,454.5 192.5,455.3 199.5,456.1 206.5,457.8 213.5,459.0 220.5,460.7 227.5,460.7 234.5,460.7 241.5,460.2 248.5,459.5 255.5,459.9 262.5,455.9 269.5,450.4 276.5,450.7 283.5,448.8 290.5,441.9 297.5,426.6 304.5,426.3 311.5,419.0 318.5,417.0 325.5,416.8 332.5,420.4 339.5,421.9 346.5,424.2 353.5,423.8 360.5,425.4 367.5,421.7 374.5,414.4 381.5,407.4 388.5,396.7 395.5,379.7 402.5,363.7 409.5,354.6 416.5,342.9 423.5,326.2 430.5,309.0 437.5,295.7 444.5,290.0 451.5,282.3 458.5,274.1 465.5,267.9 472.5,267.4 479.5,263.7 486.5,262.7 493.5,273.9 500.5,278.3 507.5,278.5 514.5,278.5 521.5,279.1 528.5,282.7 535.5,281.3 542.5,282.0 549.5,282.1 556.5,282.1 563.5,282.1 570.5,281.8 577.5,282.0 584.5,282.2 591.5,282.0 598.5,281.6 605.5,282.5 612.5,282.2 619.5,282.9 626.5,281.8 633.5,269.0 640.5,263.0 647.5,263.1 654.5,261.4 661.5,254.3 668.5,243.2 675.5,242.2 682.5,236.4 689.5,235.6 696.5,233.4 703.5,232.9 710.5,233.3 717.5,233.8 724.5,233.3 731.5,233.0 738.5,231.8 745.5,235.7 752.5,236.7 759.5,237.7 766.5,234.9 773.5,235.5"/><path fill="none" stroke="#000" stroke-width="2.2" d="M80.5,465.0 C83.2,464.2 91.0,462.1 96.8,460.0 C102.6,457.9 110.3,454.1 115.5,452.5 C120.7,450.9 123.8,451.4 128.0,450.6 C132.2,449.9 136.3,448.6 140.5,448.0 C144.7,447.4 148.8,447.1 153.0,446.9 C157.2,446.7 161.3,447.2 165.5,446.9 C169.7,446.6 173.8,445.9 178.0,445.0 C182.2,444.1 186.3,442.8 190.5,441.3 C194.7,439.9 198.8,438.2 203.0,436.3 C207.2,434.4 211.3,431.7 215.5,430.0 C219.7,428.3 224.2,427.3 228.0,426.3 C231.8,425.3 232.4,425.2 238.0,424.2 C243.6,423.1 253.1,422.3 261.8,420.0 C270.6,417.7 282.0,414.4 290.5,410.6 C299.0,406.9 305.1,402.2 313.0,397.5 C320.9,392.8 329.7,387.7 338.0,382.5 C346.3,377.3 356.8,370.5 363.0,366.3 C369.2,362.1 369.7,360.8 375.5,357.5 C381.3,354.2 391.3,349.9 398.0,346.3 C404.7,342.7 408.5,340.1 415.5,336.0 C422.5,331.9 428.9,327.4 440.0,322.0 C451.1,316.6 466.6,308.1 482.2,303.3 C497.8,298.5 520.8,296.4 533.8,293.1 C546.7,289.8 549.4,286.4 560.0,283.4 C570.6,280.4 585.0,278.1 597.5,275.0 C610.0,271.9 622.5,268.9 635.0,264.7 C647.5,260.5 663.1,253.0 672.5,249.7 C681.9,246.4 685.0,246.7 691.2,245.0 C697.5,243.3 703.8,241.4 710.0,239.4 C716.2,237.4 722.5,235.2 728.8,232.8 C735.0,230.5 740.0,228.3 747.5,225.3 C755.0,222.3 769.4,216.7 773.8,215.0"/><rect x="80" y="370.6" width="1" height="18.7" fill="#0000ff"/><rect x="78.5" y="371.9" width="4" height="7.2" fill="#fff" stroke="#0000ff" stroke-width="1"/><rect x="87" y="377.2" width="1" height="20.8" fill="#0000ff"/><rect x="85" y="379.9" width="5" height="2.5" fill="#0000ff"/><rect x="94" y="372.4" width="1" height="15.4" fill="#0000ff"/><rect x="92" y="377.7" width="5" height="8.1" fill="#0000ff"/><rect x="101" y="388.0" width="1" height="15.9" fill="#0000ff"/><rect x="99" y="397.7" width="5" height="5.1" fill="#0000ff"/><rect x="108" y="391.9" width="1" height="51.0" fill="#0000ff"/><rect x="106.5" y="400.1" width="4" height="13.7" fill="#fff" stroke="#0000ff" stroke-width="1"/><rect x="115" y="373.4" width="1" height="38.9" fill="#0000ff"/><rect x="113.5" y="375.3" width="4" height="29.2" fill="#fff" stroke="#0000ff" stroke-width="1"/><rect x="122" y="375.5" width="1" height="62.6" fill="#0000ff"/><rect x="120" y="380.7" width="5" height="48.8" fill="#0000ff"/><rect x="129" y="411.6" width="1" height="40.3" fill="#000000"/><rect x="127" y="423.6" width="5" height="16.1" fill="#000000"/><rect x="136" y="381.4" width="1" height="40.6" fill="#000000"/><rect x="134.5" y="388.6" width="4" height="33.5" fill="#fff" stroke="#000000" stroke-width="1"/><rect x="143" y="386.0" width="1" height="21.3" fill="#000000"/><rect x="141" y="387.5" width="5" height="18.8" fill="#000000"/><rect x="150" y="404.0" width="1" height="31.4" fill="#000000"/><rect x="148" y="409.9" width="5" height="25.0" fill="#000000"/><rect x="157" y="421.4" width="1" height="67.9" fill="#000000"/><rect x="155" y="435.5" width="5" height="28.2" fill="#000000"/><rect x="164" y="416.8" width="1" height="68.5" fill="#000000"/><rect x="162.5" y="422.3" width="4" height="27.3" fill="#fff" stroke="#000000" stroke-width="1"/><rect x="171" y="400.3" width="1" height="34.9" fill="#000000"/><rect x="169" y="421.0" width="5" height="13.0" fill="#000000"/><rect x="178" y="387.5" width="1" height="29.2" fill="#000000"/><rect x="176.5" y="403.5" width="4" height="13.3" fill="#fff" stroke="#000000" stroke-width="1"/><rect x="185" y="379.8" width="1" height="17.8" fill="#000000"/><rect x="183.5" y="390.3" width="4" height="3.8" fill="#fff" stroke="#000000" stroke-width="1"/><rect x="192" y="355.6" width="1" height="25.2" fill="#0000ff"/><rect x="190.5" y="367.4" width="4" height="13.4" fill="#fff" stroke="#0000ff" stroke-width="1"/><rect x="199" y="364.2" width="1" height="16.8" fill="#000000"/><rect x="197.5" y="365.2" width="4" height="10.6" fill="#fff" stroke="#000000" stroke-width="1"/><rect x="206" y="350.1" width="1" height="26.2" fill="#0000ff"/><rect x="204.5" y="350.7" width="4" height="14.7" fill="#fff" stroke="#0000ff" stroke-width="1"/><rect x="213" y="343.9" width="1" height="15.6" fill="#0000ff"/><rect x="211" y="348.1" width="5" height="6.1" fill="#0000ff"/><rect x="220" y="342.3" width="1" height="27.1" fill="#0000ff"/><rect x="218.5" y="347.8" width="4" height="13.8" fill="#fff" stroke="#0000ff" stroke-width="1"/><rect x="227" y="350.3" width="1" height="33.1" fill="#0000ff"/><rect x="225" y="359.4" width="5" height="21.5" fill="#0000ff"/><rect x="234" y="372.6" width="1" height="24.5" fill="#000000"/><rect x="232" y="382" width="5" height="1.2" fill="#000000"/><rect x="241" y="358.4" width="1" height="23.2" fill="#000000"/><rect x="239.5" y="366.7" width="4" height="13.6" fill="#fff" stroke="#000000" stroke-width="1"/><rect x="248" y="361.9" width="1" height="26.8" fill="#000000"/><rect x="246" y="368.4" width="5" height="15.3" fill="#000000"/><rect x="255" y="365.9" width="1" height="29.9" fill="#000000"/><rect x="253" y="378.4" width="5" height="17.4" fill="#000000"/><rect x="262" y="378.6" width="1" height="37.2" fill="#000000"/><rect x="260.5" y="384.2" width="4" height="17.0" fill="#fff" stroke="#000000" stroke-width="1"/><rect x="269" y="345.5" width="1" height="34.4" fill="#000000"/><rect x="267.5" y="347.6" width="4" height="32.4" fill="#fff" stroke="#000000" stroke-width="1"/><rect x="276" y="343.4" width="1" height="21.8" fill="#000000"/><rect x="274.5" y="348.8" width="4" height="2.5" fill="#fff" stroke="#000000" stroke-width="1"/><rect x="283" y="351.2" width="1" height="13.3" fill="#000000"/><rect x="281" y="353.9" width="5" height="2.7" fill="#000000"/><rect x="290" y="336.4" width="1" height="15.5" fill="#0000ff"/><rect x="288.5" y="348.5" width="4" height="3.2" fill="#fff" stroke="#0000ff" stroke-width="1"/><rect x="297" y="321.6" width="1" height="15.7" fill="#0000ff"/><rect x="295.5" y="322.0" width="4" height="15.3" fill="#fff" stroke="#0000ff" stroke-width="1"/><rect x="304" y="286.2" width="1" height="27.6" fill="#0000ff"/><rect x="302.5" y="289.3" width="4" height="24.5" fill="#fff" stroke="#0000ff" stroke-width="1"/><rect x="311" y="284.6" width="1" height="10.2" fill="#0000ff"/><rect x="309" y="291" width="5" height="1.2" fill="#0000ff"/><rect x="318" y="286.3" width="1" height="8.4" fill="#0000ff"/><rect x="316.5" y="288.1" width="4" height="3.2" fill="#fff" stroke="#0000ff" stroke-width="1"/><rect x="325" y="277.8" width="1" height="8.8" fill="#0000ff"/><rect x="323.5" y="278.4" width="4" height="4.1" fill="#fff" stroke="#0000ff" stroke-width="1"/><rect x="332" y="260.2" width="1" height="19.2" fill="#0000ff"/><rect x="330.5" y="260.6" width="4" height="18.4" fill="#fff" stroke="#0000ff" stroke-width="1"/><rect x="339" y="258.9" width="1" height="9.6" fill="#0000ff"/><rect x="337.5" y="260.7" width="4" height="2.5" fill="#fff" stroke="#0000ff" stroke-width="1"/><rect x="346" y="249.7" width="1" height="13.3" fill="#0000ff"/><rect x="344.5" y="253.3" width="4" height="6.5" fill="#fff" stroke="#0000ff" stroke-width="1"/><rect x="353" y="247.6" width="1" height="17.4" fill="#0000ff"/><rect x="351" y="253.3" width="5" height="9.5" fill="#0000ff"/><rect x="360" y="235.4" width="1" height="19.0" fill="#0000ff"/><rect x="358.5" y="237.1" width="4" height="17.3" fill="#fff" stroke="#0000ff" stroke-width="1"/><rect x="367" y="225.3" width="1" height="11.6" fill="#0000ff"/><rect x="365.5" y="228.6" width="4" height="6.4" fill="#fff" stroke="#0000ff" stroke-width="1"/><rect x="374" y="231.2" width="1" height="17.1" fill="#0000ff"/><rect x="372" y="231.8" width="5" height="9.3" fill="#0000ff"/><rect x="381" y="243.4" width="1" height="23.0" fill="#0000ff"/><rect x="379" y="243.4" width="5" height="13.7" fill="#0000ff"/><rect x="388" y="234.5" width="1" height="27.4" fill="#0000ff"/><rect x="386.5" y="235.4" width="4" height="25.4" fill="#fff" stroke="#0000ff" stroke-width="1"/><rect x="395" y="231.9" width="1" height="31.5" fill="#0000ff"/><rect x="393" y="237.1" width="5" height="20.0" fill="#0000ff"/><rect x="402" y="223.7" width="1" height="31.2" fill="#0000ff"/><rect x="400.5" y="231.6" width="4" height="23.3" fill="#fff" stroke="#0000ff" stroke-width="1"/><rect x="409" y="223.7" width="1" height="6.7" fill="#0000ff"/><rect x="407.5" y="226.9" width="4" height="2.5" fill="#fff" stroke="#0000ff" stroke-width="1"/><rect x="416" y="224.2" width="1" height="9.7" fill="#0000ff"/><rect x="414" y="227" width="5" height="1.2" fill="#0000ff"/><rect x="423" y="219.5" width="1" height="11.1" fill="#0000ff"/><rect x="421" y="228.1" width="5" height="2.5" fill="#0000ff"/><rect x="430" y="209.8" width="1" height="23.7" fill="#0000ff"/><rect x="428.5" y="213.9" width="4" height="3.0" fill="#fff" stroke="#0000ff" stroke-width="1"/><rect x="437" y="221.5" width="1" height="13.1" fill="#0000ff"/><rect x="435" y="221.5" width="5" height="9.5" fill="#0000ff"/><rect x="444" y="215.1" width="1" height="12.0" fill="#0000ff"/><rect x="442" y="225" width="5" height="1.2" fill="#0000ff"/><rect x="451" y="232.2" width="1" height="28.5" fill="#0000ff"/><rect x="449" y="232.2" width="5" height="8.1" fill="#0000ff"/><rect x="458" y="227.3" width="1" height="15.1" fill="#0000ff"/><rect x="456" y="233.3" width="5" height="5.3" fill="#0000ff"/><rect x="465" y="218.9" width="1" height="31.2" fill="#0000ff"/><rect x="463.5" y="219.5" width="4" height="18.3" fill="#fff" stroke="#0000ff" stroke-width="1"/><rect x="472" y="198.9" width="1" height="20.5" fill="#0000ff"/><rect x="470.5" y="202.0" width="4" height="12.6" fill="#fff" stroke="#0000ff" stroke-width="1"/><rect x="479" y="199.9" width="1" height="27.2" fill="#0000ff"/><rect x="477" y="204.4" width="5" height="22.5" fill="#0000ff"/><rect x="486" y="241.8" width="1" height="28.5" fill="#0000ff"/><rect x="484" y="247" width="5" height="1.2" fill="#0000ff"/><rect x="493" y="257.2" width="1" height="43.9" fill="#0000ff"/><rect x="491" y="259.6" width="5" height="38.1" fill="#0000ff"/><rect x="500" y="259.0" width="1" height="31.9" fill="#0000ff"/><rect x="498.5" y="269.8" width="4" height="21.2" fill="#fff" stroke="#0000ff" stroke-width="1"/><rect x="507" y="229.9" width="1" height="30.2" fill="#0000ff"/><rect x="505.5" y="235.1" width="4" height="25.0" fill="#fff" stroke="#0000ff" stroke-width="1"/><rect x="514" y="236.2" width="1" height="16.5" fill="#0000ff"/><rect x="512" y="237.4" width="5" height="3.7" fill="#0000ff"/><rect x="521" y="237.8" width="1" height="24.3" fill="#0000ff"/><rect x="519" y="239.6" width="5" height="21.5" fill="#0000ff"/><rect x="528" y="267.3" width="1" height="31.3" fill="#000000"/><rect x="526.5" y="268.0" width="4" height="9.7" fill="#fff" stroke="#000000" stroke-width="1"/><rect x="535" y="235.7" width="1" height="28.7" fill="#000000"/><rect x="533.5" y="243.5" width="4" height="21.0" fill="#fff" stroke="#000000" stroke-width="1"/><rect x="542" y="226.8" width="1" height="20.9" fill="#000000"/><rect x="540" y="238.1" width="5" height="7.2" fill="#000000"/><rect x="549" y="215.0" width="1" height="22.2" fill="#000000"/><rect x="547.5" y="222.1" width="4" height="15.2" fill="#fff" stroke="#000000" stroke-width="1"/><rect x="556" y="212.8" width="1" height="17.4" fill="#000000"/><rect x="554" y="217.0" width="5" height="10.0" fill="#000000"/><rect x="563" y="218.9" width="1" height="10.4" fill="#000000"/><rect x="561.5" y="222.7" width="4" height="2.5" fill="#fff" stroke="#000000" stroke-width="1"/><rect x="570" y="212.9" width="1" height="8.8" fill="#000000"/><rect x="568" y="219" width="5" height="1.2" fill="#000000"/><rect x="577" y="210.0" width="1" height="8.3" fill="#000000"/><rect x="575" y="214.3" width="5" height="3.8" fill="#000000"/><rect x="584" y="201.2" width="1" height="20.6" fill="#000000"/><rect x="582" y="211.1" width="5" height="8.2" fill="#000000"/><rect x="591" y="210.6" width="1" height="10.8" fill="#000000"/><rect x="589" y="216" width="5" height="1.2" fill="#000000"/><rect x="598" y="217.9" width="1" height="20.6" fill="#000000"/><rect x="596" y="224" width="5" height="1.2" fill="#000000"/><rect x="605" y="201.5" width="1" height="15.5" fill="#000000"/><rect x="603.5" y="203.5" width="4" height="13.4" fill="#fff" stroke="#000000" stroke-width="1"/><rect x="612" y="202.2" width="1" height="9.4" fill="#000000"/><rect x="610" y="203.4" width="5" height="2.5" fill="#000000"/><rect x="619" y="199.7" width="1" height="16.0" fill="#000000"/><rect x="617" y="201.3" width="5" height="3.7" fill="#000000"/><rect x="626" y="199.5" width="1" height="10.3" fill="#000000"/><rect x="624" y="201.8" width="5" height="7.6" fill="#000000"/><rect x="633" y="192.3" width="1" height="16.6" fill="#0000ff"/><rect x="631.5" y="198.3" width="4" height="6.0" fill="#fff" stroke="#0000ff" stroke-width="1"/><rect x="640" y="193.1" width="1" height="9.1" fill="#0000ff"/><rect x="638.5" y="193.6" width="4" height="2.6" fill="#fff" stroke="#0000ff" stroke-width="1"/><rect x="647" y="189.0" width="1" height="12.1" fill="#0000ff"/><rect x="645.5" y="189.3" width="4" height="3.9" fill="#fff" stroke="#0000ff" stroke-width="1"/><rect x="654" y="188.2" width="1" height="10.6" fill="#0000ff"/><rect x="652" y="189.2" width="5" height="4.9" fill="#0000ff"/><rect x="661" y="191.1" width="1" height="27.9" fill="#0000ff"/><rect x="659" y="192.8" width="5" height="14.2" fill="#0000ff"/><rect x="668" y="202.2" width="1" height="20.4" fill="#000000"/><rect x="666" y="208" width="5" height="1.2" fill="#000000"/><rect x="675" y="217.7" width="1" height="22.8" fill="#000000"/><rect x="673" y="217.7" width="5" height="21.6" fill="#000000"/><rect x="682" y="205.6" width="1" height="29.8" fill="#000000"/><rect x="680.5" y="206.4" width="4" height="29.0" fill="#fff" stroke="#000000" stroke-width="1"/><rect x="689" y="188.9" width="1" height="21.8" fill="#0000ff"/><rect x="687.5" y="194.2" width="4" height="12.3" fill="#fff" stroke="#0000ff" stroke-width="1"/><rect x="696" y="188.5" width="1" height="8.6" fill="#0000ff"/><rect x="694" y="192.6" width="5" height="4.2" fill="#0000ff"/><rect x="703" y="180.2" width="1" height="8.1" fill="#0000ff"/><rect x="701.5" y="182.9" width="4" height="5.4" fill="#fff" stroke="#0000ff" stroke-width="1"/><rect x="710" y="171.8" width="1" height="10.2" fill="#0000ff"/><rect x="708.5" y="174.9" width="4" height="3.5" fill="#fff" stroke="#0000ff" stroke-width="1"/><rect x="717" y="168.4" width="1" height="9.9" fill="#0000ff"/><rect x="715.5" y="169.3" width="4" height="3.2" fill="#fff" stroke="#0000ff" stroke-width="1"/><rect x="724" y="163.7" width="1" height="7.6" fill="#0000ff"/><rect x="722" y="168" width="5" height="1.2" fill="#0000ff"/><rect x="731" y="162.6" width="1" height="8.2" fill="#0000ff"/><rect x="729.5" y="165.4" width="4" height="3.9" fill="#fff" stroke="#0000ff" stroke-width="1"/><rect x="738" y="152.3" width="1" height="11.2" fill="#0000ff"/><rect x="736.5" y="152.8" width="4" height="10.8" fill="#fff" stroke="#0000ff" stroke-width="1"/><rect x="745" y="132.7" width="1" height="16.3" fill="#0000ff"/><rect x="743.5" y="134.5" width="4" height="14.5" fill="#fff" stroke="#0000ff" stroke-width="1"/><rect x="752" y="132.2" width="1" height="23.7" fill="#0000ff"/><rect x="750" y="132.2" width="5" height="7.3" fill="#0000ff"/><rect x="759" y="129.1" width="1" height="18.1" fill="#0000ff"/><rect x="757.5" y="131.2" width="4" height="4.0" fill="#fff" stroke="#0000ff" stroke-width="1"/><rect x="766" y="146.6" width="1" height="23.4" fill="#0000ff"/><rect x="764" y="152" width="5" height="1.2" fill="#0000ff"/><rect x="773" y="123.6" width="1" height="23.8" fill="#0000ff"/><rect x="771.5" y="124.8" width="4" height="22.7" fill="#fff" stroke="#0000ff" stroke-width="1"/><text x="542.7" y="370.9" font-family="Liberation Sans, Arial, sans-serif" font-weight="bold" font-size="13" fill="#000">T structure or DB</text><text x="403.3" y="513.8" font-family="Liberation Sans, Arial, sans-serif" font-weight="bold" font-size="13" fill="#000">Small Ts</text><text x="655" y="540" font-family="Liberation Sans, Arial, sans-serif" font-weight="bold" font-size="13" fill="#000">New T structure</text><text x="227.5" y="662" font-family="Liberation Sans, Arial, sans-serif" font-weight="bold" font-size="13" fill="#000">Large T structure</text><text x="472.5" y="708.8" font-family="Liberation Sans, Arial, sans-serif" font-weight="bold" font-size="13" fill="#000">DB structure</text><text x="934.7" y="139.2" font-family="Liberation Sans, Arial, sans-serif" font-weight="bold" font-size="13" fill="#000">Next Echo and Pulse Highs</text><text x="857.2" y="172" font-family="Liberation Sans, Arial, sans-serif" font-weight="bold" font-size="13" fill="#000">4280</text><text x="934.7" y="187" font-family="Liberation Sans, Arial, sans-serif" font-weight="bold" font-size="13" fill="#000">* S/T BUY SIGNAL *</text><text x="934.7" y="203.2" font-family="Liberation Sans, Arial, sans-serif" font-weight="bold" font-size="13" fill="#000">* NO SHORT ALERT *</text><text x="795.6" y="231.4" font-family="Liberation Sans, Arial, sans-serif" font-weight="bold" font-size="13" fill="#000">S/T BUY Signal</text><text x="935.3" y="235.1" font-family="Liberation Sans, Arial, sans-serif" font-weight="bold" font-size="13" fill="#000">S/T BUY Signal at 4341 on 09 July</text><text x="934.7" y="266.4" font-family="Liberation Sans, Arial, sans-serif" font-weight="bold" font-size="13" fill="#000">T volume Osc: negative on 15 June</text><text x="934.7" y="282.3" font-family="Liberation Sans, Arial, sans-serif" font-weight="bold" font-size="13" fill="#000">Up</text><text x="934.7" y="314.8" font-family="Liberation Sans, Arial, sans-serif" font-weight="bold" font-size="13" fill="#000">Osc: Buy Signal on 25 June</text><text x="934.7" y="330.75" font-family="Liberation Sans, Arial, sans-serif" font-weight="bold" font-size="13" fill="#000">Up slightly</text><text x="934" y="394.4" font-family="Liberation Sans, Arial, sans-serif" font-weight="bold" font-size="13" fill="#000">Click here for</text><text x="934" y="410.6" font-family="Liberation Sans, Arial, sans-serif" font-weight="bold" font-size="13" fill="#000">More Information...</text><text x="850.3" y="462.5" font-family="Liberation Sans, Arial, sans-serif" font-weight="bold" font-size="13" fill="#000">3758</text><text x="935" y="714.25" font-family="Liberation Sans, Arial, sans-serif" font-weight="bold" font-size="13" fill="#000">Next Projected Low(s)</text><text x="857.5" y="756" font-family="Liberation Sans, Arial, sans-serif" font-weight="bold" font-size="13" fill="#000">3300</text><path d="M857.5 748 L857.5 721.25 M851.5 735.25 L857.5 721.25 L863.5 735.25" fill="none" stroke="#404040" stroke-width="1"/><path d="M927.5 748 L927.5 721.25 M921.5 735.25 L927.5 721.25 L933.5 735.25" fill="none" stroke="#404040" stroke-width="1"/><path d="M1011.5 748 L1011.5 720 M1005.5 734 L1011.5 720 L1017.5 734" fill="none" stroke="#404040" stroke-width="1"/></g><path d="M94.0 340 L94.0 364.5 M85.0 343.5 L94.0 364.5 L103.0 343.5" fill="none" stroke="#808080" stroke-width="1.8" stroke-linejoin="miter"/><path d="M122.0 331 L122.0 356 M113.0 335 L122.0 356 L131.0 335" fill="none" stroke="#808080" stroke-width="1.8" stroke-linejoin="miter"/><path d="M227.0 318 L227.0 343 M218.0 322 L227.0 343 L236.0 322" fill="none" stroke="#808080" stroke-width="1.8" stroke-linejoin="miter"/><path d="M248.0 332 L248.0 356.3 M239.0 335.3 L248.0 356.3 L257.0 335.3" fill="none" stroke="#808080" stroke-width="1.8" stroke-linejoin="miter"/><path d="M381.0 201.5 L381.0 226 M372.0 205 L381.0 226 L390.0 205" fill="none" stroke="#808080" stroke-width="1.8" stroke-linejoin="miter"/><path d="M395.0 203 L395.0 227.5 M386.0 206.5 L395.0 227.5 L404.0 206.5" fill="none" stroke="#808080" stroke-width="1.8" stroke-linejoin="miter"/><path d="M451.0 196 L451.0 219.5 M442.0 198.5 L451.0 219.5 L460.0 198.5" fill="none" stroke="#808080" stroke-width="1.8" stroke-linejoin="miter"/><path d="M479.0 172 L479.0 197.4 M470.0 176.4 L479.0 197.4 L488.0 176.4" fill="none" stroke="#808080" stroke-width="1.8" stroke-linejoin="miter"/><path d="M521.0 206.7 L521.0 229 M512.0 208 L521.0 229 L530.0 208" fill="none" stroke="#808080" stroke-width="1.8" stroke-linejoin="miter"/><path d="M661.0 148 L661.0 172 M652.0 151 L661.0 172 L670.0 151" fill="none" stroke="#808080" stroke-width="1.8" stroke-linejoin="miter"/><path d="M766.0 106.4 L766.0 131.2 M757.0 110.19999999999999 L766.0 131.2 L775.0 110.19999999999999" fill="none" stroke="#808080" stroke-width="1.8" stroke-linejoin="miter"/><path d="M108.5 358 L108.5 382.5 M102.5 369.5 L108.5 382.5 L114.5 369.5" fill="none" stroke="#ff0000" stroke-width="1" stroke-linejoin="miter"/><path d="M262.5 347.8 L262.5 372.2 M256.5 359.2 L262.5 372.2 L268.5 359.2" fill="none" stroke="#ff0000" stroke-width="1" stroke-linejoin="miter"/><path d="M451.5 179.2 L451.5 203 M445.5 190 L451.5 203 L457.5 190" fill="none" stroke="#ff0000" stroke-width="1" stroke-linejoin="miter"/><path d="M465.5 190.9 L465.5 216.3 M459.5 203.3 L465.5 216.3 L471.5 203.3" fill="none" stroke="#ff0000" stroke-width="1" stroke-linejoin="miter"/><path d="M668.5 161.5 L668.5 185 M662.5 172 L668.5 185 L674.5 172" fill="none" stroke="#ff0000" stroke-width="1" stroke-linejoin="miter"/><path d="M122.0 345 L122.0 370.3 M112.5 350.3 L122.0 370.3 L131.5 350.3" fill="none" stroke="#ff0000" stroke-width="2" stroke-linejoin="miter"/><path d="M150.0 362 L150.0 387 M140.5 367 L150.0 387 L159.5 367" fill="none" stroke="#ff0000" stroke-width="2" stroke-linejoin="miter"/><path d="M487.0 203 L487.0 227.5 M477.5 207.5 L487.0 227.5 L496.5 207.5" fill="none" stroke="#ff0000" stroke-width="2" stroke-linejoin="miter"/><path d="M528.0 218 L528.0 243 M518.5 223 L528.0 243 L537.5 223" fill="none" stroke="#ff0000" stroke-width="2" stroke-linejoin="miter"/><path d="M675.0 183.3 L675.0 207.7 M665.5 187.7 L675.0 207.7 L684.5 187.7" fill="none" stroke="#ff0000" stroke-width="2" stroke-linejoin="miter"/><path d="M101.5 155 L101.5 180.4 M95.0 167.4 L101.5 180.4 L108.0 167.4" fill="none" stroke="#ff00ff" stroke-width="1" stroke-linejoin="miter"/><path d="M206.5 155 L206.5 180.4 M200.0 167.4 L206.5 180.4 L213.0 167.4" fill="none" stroke="#ff00ff" stroke-width="1" stroke-linejoin="miter"/><path d="M255.5 152 L255.5 177.6 M249.0 164.6 L255.5 177.6 L262.0 164.6" fill="none" stroke="#ff00ff" stroke-width="1" stroke-linejoin="miter"/><path d="M339.5 154 L339.5 179 M333.0 166 L339.5 179 L346.0 166" fill="none" stroke="#ff00ff" stroke-width="1" stroke-linejoin="miter"/><path d="M423.5 131 L423.5 156.6 M417.0 143.6 L423.5 156.6 L430.0 143.6" fill="none" stroke="#ff00ff" stroke-width="1" stroke-linejoin="miter"/><path d="M528.5 131 L528.5 156.6 M522.0 143.6 L528.5 156.6 L535.0 143.6" fill="none" stroke="#ff00ff" stroke-width="1" stroke-linejoin="miter"/><path d="M675.5 133 L675.5 158.4 M669.0 145.4 L675.5 158.4 L682.0 145.4" fill="none" stroke="#ff00ff" stroke-width="1" stroke-linejoin="miter"/><path d="M822.5 101.7 L822.5 127.3 M816.0 114.3 L822.5 127.3 L829.0 114.3" fill="none" stroke="#ff00ff" stroke-width="1" stroke-linejoin="miter"/><path d="M269.5 152 L269.5 177.6 M263.0 164.6 L269.5 177.6 L276.0 164.6" fill="none" stroke="#008080" stroke-width="1" stroke-linejoin="miter"/><path d="M353.5 154 L353.5 179 M347.0 166 L353.5 179 L360.0 166" fill="none" stroke="#008080" stroke-width="1" stroke-linejoin="miter"/><path d="M472.5 131 L472.5 156.6 M466.0 143.6 L472.5 156.6 L479.0 143.6" fill="none" stroke="#008080" stroke-width="1" stroke-linejoin="miter"/><path d="M619.5 133 L619.5 157.5 M613.0 144.5 L619.5 157.5 L626.0 144.5" fill="none" stroke="#008080" stroke-width="1" stroke-linejoin="miter"/><path d="M647.5 132 L647.5 157.5 M641.0 144.5 L647.5 157.5 L654.0 144.5" fill="none" stroke="#008080" stroke-width="1" stroke-linejoin="miter"/><path d="M752.5 102.2 L752.5 127.5 M746.0 114.5 L752.5 127.5 L759.0 114.5" fill="none" stroke="#008080" stroke-width="1" stroke-linejoin="miter"/><path d="M115.0 471 L115.0 440.7 M105.5 461.7 L115.0 440.7 L124.5 461.7" fill="none" stroke="#00ff00" stroke-width="2"/><path d="M136.0 502 L136.0 470 M126.5 491 L136.0 470 L145.5 491" fill="none" stroke="#00ff00" stroke-width="2"/><path d="M164.0 522 L164.0 492 M154.5 513 L164.0 492 L173.5 513" fill="none" stroke="#00ff00" stroke-width="2"/><path d="M241.0 435 L241.0 403.2 M231.5 424.2 L241.0 403.2 L250.5 424.2" fill="none" stroke="#00ff00" stroke-width="2"/><path d="M269.0 447 L269.0 417.3 M259.5 438.3 L269.0 417.3 L278.5 438.3" fill="none" stroke="#00ff00" stroke-width="2"/><path d="M388.0 312 L388.0 280.2 M378.5 301.2 L388.0 280.2 L397.5 301.2" fill="none" stroke="#00ff00" stroke-width="2"/><path d="M402.0 293.5 L402.0 261.6 M392.5 282.6 L402.0 261.6 L411.5 282.6" fill="none" stroke="#00ff00" stroke-width="2"/><path d="M465.0 296.5 L465.0 263.8 M455.5 284.8 L465.0 263.8 L474.5 284.8" fill="none" stroke="#00ff00" stroke-width="2"/><path d="M507.0 327 L507.0 299.5 M497.5 320.5 L507.0 299.5 L516.5 320.5" fill="none" stroke="#00ff00" stroke-width="2"/><path d="M535.0 324 L535.0 294.3 M525.5 315.3 L535.0 294.3 L544.5 315.3" fill="none" stroke="#00ff00" stroke-width="2"/><path d="M683.0 291 L683.0 260 M673.5 281 L683.0 260 L692.5 281" fill="none" stroke="#00ff00" stroke-width="2"/><path d="M774.0 206.7 L774.0 175.7 M764.5 196.7 L774.0 175.7 L783.5 196.7" fill="none" stroke="#00ff00" stroke-width="2"/><path d="M255.5 431 L255.5 401.3 M249.5 414.3 L255.5 401.3 L261.5 414.3" fill="none" stroke="#00ff00" stroke-width="1"/></svg></body></html>
